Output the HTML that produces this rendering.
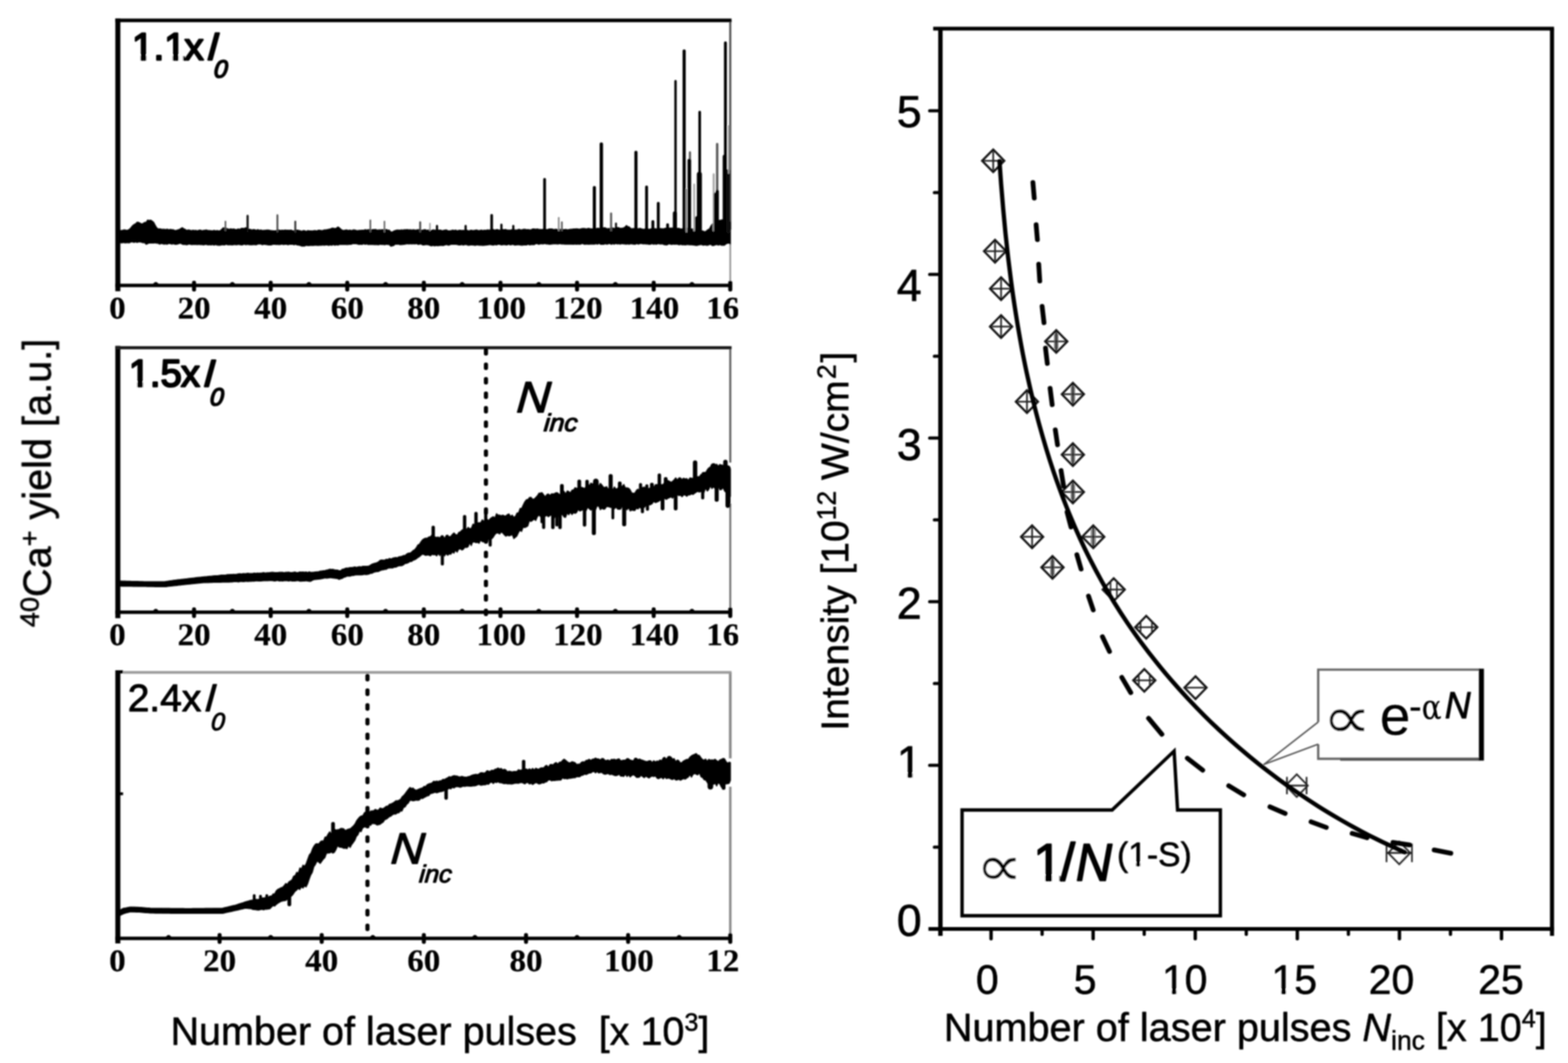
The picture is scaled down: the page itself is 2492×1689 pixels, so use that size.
<!DOCTYPE html>
<html lang="en"><head><meta charset="utf-8"><title>Figure</title>
<style>html,body{margin:0;padding:0;background:#fff;overflow:hidden}svg{display:block}text{font-family:'Liberation Sans','DejaVu Sans',sans-serif;fill:#000;font-kerning:none} .tk{font-family:'Liberation Serif','DejaVu Serif',serif;font-weight:bold;font-size:51px;text-anchor:middle;stroke:#000;stroke-width:0.3px}.i{font-style:italic}</style></head><body>
<svg xmlns="http://www.w3.org/2000/svg" width="2492" height="1689" viewBox="0 0 2492 1689">
<defs><filter id="bl" x="-5%" y="-5%" width="110%" height="110%"><feGaussianBlur stdDeviation="0.9"/></filter><clipPath id="cl"><rect x="0" y="0" width="1173" height="1689"/></clipPath></defs>
<rect width="2492" height="1689" fill="#fff"/>
<g filter="url(#bl)">
<g clip-path="url(#cl)">
<line x1="1160.6" y1="32.4" x2="1160.6" y2="365" stroke="#555" stroke-width="3.4" stroke-linecap="butt" />
<line x1="1160.6" y1="388" x2="1160.6" y2="453.5" stroke="#999" stroke-width="2.8" stroke-linecap="butt" />
<line x1="187.3" y1="29.4" x2="187.3" y2="462.7" stroke="#000" stroke-width="8" stroke-linecap="butt" />
<line x1="183.3" y1="32.4" x2="1162.6" y2="32.4" stroke="#000" stroke-width="5.6" stroke-linecap="butt" />
<line x1="183.3" y1="453.5" x2="1163.1" y2="453.5" stroke="#000" stroke-width="5.6" stroke-linecap="butt" />
<text class="tk" transform="translate(186.7,506) scale(1.03,1)">0</text>
<path d="M242.6,451.5 L246.1,448.2 L249.1,448.2 L252.6,451.5Z" fill="#000"/>
<line x1="308.4" y1="449.3" x2="308.4" y2="460.1" stroke="#000" stroke-width="6.4" stroke-linecap="round" />
<text class="tk" transform="translate(308.4,506) scale(1.03,1)">20</text>
<path d="M364.3,451.5 L367.8,448.2 L370.8,448.2 L374.3,451.5Z" fill="#000"/>
<line x1="430.2" y1="449.3" x2="430.2" y2="460.1" stroke="#000" stroke-width="6.4" stroke-linecap="round" />
<text class="tk" transform="translate(430.2,506) scale(1.03,1)">40</text>
<path d="M486,451.5 L489.5,448.2 L492.5,448.2 L496,451.5Z" fill="#000"/>
<line x1="551.9" y1="449.3" x2="551.9" y2="460.1" stroke="#000" stroke-width="6.4" stroke-linecap="round" />
<text class="tk" transform="translate(551.9,506) scale(1.03,1)">60</text>
<path d="M607.8,451.5 L611.3,448.2 L614.3,448.2 L617.8,451.5Z" fill="#000"/>
<line x1="673.6" y1="449.3" x2="673.6" y2="460.1" stroke="#000" stroke-width="6.4" stroke-linecap="round" />
<text class="tk" transform="translate(673.6,506) scale(1.03,1)">80</text>
<path d="M729.5,451.5 L733,448.2 L736,448.2 L739.5,451.5Z" fill="#000"/>
<line x1="795.4" y1="449.3" x2="795.4" y2="460.1" stroke="#000" stroke-width="6.4" stroke-linecap="round" />
<text class="tk" transform="translate(796.6,506) scale(1.03,1)">100</text>
<path d="M851.3,451.5 L854.8,448.2 L857.8,448.2 L861.3,451.5Z" fill="#000"/>
<line x1="917.1" y1="449.3" x2="917.1" y2="460.1" stroke="#000" stroke-width="6.4" stroke-linecap="round" />
<text class="tk" transform="translate(918.3,506) scale(1.03,1)">120</text>
<path d="M973,451.5 L976.5,448.2 L979.5,448.2 L983,451.5Z" fill="#000"/>
<line x1="1038.9" y1="449.3" x2="1038.9" y2="460.1" stroke="#000" stroke-width="6.4" stroke-linecap="round" />
<text class="tk" transform="translate(1040.1,506) scale(1.03,1)">140</text>
<path d="M1094.7,451.5 L1098.2,448.2 L1101.2,448.2 L1104.7,451.5Z" fill="#000"/>
<line x1="1160.6" y1="449.3" x2="1160.6" y2="460.1" stroke="#000" stroke-width="6.4" stroke-linecap="round" />
<text class="tk" transform="translate(1161.8,506) scale(1.03,1)">160</text>
<path d="M189,366.2 L191.4,366 L193.8,366.1 L196.2,365.2 L198.6,365.1 L201,365.8 L203.4,365.3 L205.8,364 L208.2,361.3 L210.6,358.4 L213,356.6 L215.4,355.4 L217.8,352.8 L220.2,353.1 L222.6,354.2 L225,355.8 L227.4,354.7 L229.8,353.2 L232.2,353.1 L234.6,349.3 L237,350.2 L239.4,349.5 L241.8,351.1 L244.2,352.9 L246.6,357.4 L249,361.5 L251.4,363.6 L253.8,363.4 L256.2,363.9 L258.6,364.2 L261,364 L263.4,364.5 L265.8,363.9 L268.2,365 L270.6,364.2 L273,364.8 L275.4,364.9 L277.8,366.1 L280.2,365.8 L282.6,365 L285,364.4 L287.4,362.8 L289.8,361.5 L292.2,363.4 L294.6,364.4 L297,365.9 L299.4,365.2 L301.8,365.5 L304.2,366.4 L306.6,365.7 L309,366 L311.4,365.8 L313.8,366.5 L316.2,365.6 L318.6,365.4 L321,366.6 L323.4,365.8 L325.8,365.6 L328.2,365.2 L330.6,366 L333,366.1 L335.4,366.3 L337.8,366.5 L340.2,365.7 L342.6,366.6 L345,366.1 L347.4,366.7 L349.8,366.5 L352.2,364.3 L354.6,361.8 L357,361.9 L359.4,362.6 L361.8,363.4 L364.2,364.3 L366.6,363.3 L369,364.1 L371.4,363.5 L373.8,364.4 L376.2,364.5 L378.6,363.5 L381,364.3 L383.4,362.7 L385.8,362.7 L388.2,362.8 L390.6,361.5 L393,363.5 L395.4,364.4 L397.8,364.2 L400.2,365.3 L402.6,364.7 L405,364.8 L407.4,365.8 L409.8,364.5 L412.2,365.9 L414.6,365.2 L417,366.1 L419.4,365.8 L421.8,365.7 L424.2,365.3 L426.6,365.3 L429,365.8 L431.4,366.2 L433.8,366.4 L436.2,366.5 L438.6,366.4 L441,365.2 L443.4,365.3 L445.8,366 L448.2,365.6 L450.6,365.9 L453,365.4 L455.4,365.7 L457.8,365.5 L460.2,365.8 L462.6,365.3 L465,366.5 L467.4,366.3 L469.8,365.9 L472.2,365.4 L474.6,365.9 L477,366.3 L479.4,367.2 L481.8,366.2 L484.2,366.3 L486.6,367.6 L489,366.2 L491.4,366.5 L493.8,366.5 L496.2,366.9 L498.6,366.3 L501,366.2 L503.4,366.8 L505.8,365.6 L508.2,365.7 L510.6,366.2 L513,366 L515.4,365.1 L517.8,365 L520.2,364.6 L522.6,364.1 L525,363.7 L527.4,362.4 L529.8,362.3 L532.2,363 L534.6,362.3 L537,360.4 L539.4,361.7 L541.8,364.1 L544.2,365.7 L546.6,366.1 L549,365.3 L551.4,365.2 L553.8,366.1 L556.2,365.3 L558.6,366.3 L561,365.2 L563.4,365.2 L565.8,365.8 L568.2,366.3 L570.6,365.9 L573,365.8 L575.4,365.7 L577.8,365.7 L580.2,364.7 L582.6,365.3 L585,364.8 L587.4,364.7 L589.8,365.4 L592.2,364.7 L594.6,364.7 L597,364.3 L599.4,365.6 L601.8,365.2 L604.2,365.1 L606.6,365 L609,364.7 L611.4,365.5 L613.8,364.2 L616.2,365.5 L618.6,365.4 L621,368.1 L623.4,368.4 L625.8,366.9 L628.2,366 L630.6,365.4 L633,365.4 L635.4,365.6 L637.8,365 L640.2,365.3 L642.6,364.9 L645,364.9 L647.4,364.7 L649.8,365 L652.2,364.9 L654.6,365.4 L657,364.8 L659.4,365.3 L661.8,365.2 L664.2,364.8 L666.6,364.6 L669,365.3 L671.4,365.8 L673.8,364.8 L676.2,364.8 L678.6,366 L681,365.1 L683.4,365.2 L685.8,366 L688.2,365.1 L690.6,365.4 L693,365.9 L695.4,365.2 L697.8,365.6 L700.2,365.3 L702.6,366.6 L705,365.8 L707.4,365.4 L709.8,365.2 L712.2,366.5 L714.6,366.5 L717,366.2 L719.4,365.4 L721.8,366 L724.2,365.4 L726.6,366.5 L729,365.8 L731.4,365.7 L733.8,366.1 L736.2,365.8 L738.6,366 L741,365.3 L743.4,366 L745.8,366.5 L748.2,365.5 L750.6,365.9 L753,366 L755.4,365.5 L757.8,365.2 L760.2,366.2 L762.6,366.1 L765,365.3 L767.4,366.2 L769.8,365.5 L772.2,365.9 L774.6,365.1 L777,365.4 L779.4,365 L781.8,364.7 L784.2,364.6 L786.6,365.6 L789,364.6 L791.4,364.8 L793.8,365.5 L796.2,365 L798.6,364.6 L801,364.8 L803.4,364.3 L805.8,365.3 L808.2,365.3 L810.6,365.6 L813,364.8 L815.4,365 L817.8,365.1 L820.2,365.4 L822.6,364.9 L825,364.1 L827.4,365.1 L829.8,364.8 L832.2,364.2 L834.6,364 L837,364.8 L839.4,364.6 L841.8,365.1 L844.2,364.8 L846.6,363.6 L849,363.7 L851.4,364.1 L853.8,363.7 L856.2,364.2 L858.6,364.4 L861,364.6 L863.4,364.2 L865.8,364.4 L868.2,364.6 L870.6,364.4 L873,363.6 L875.4,363.6 L877.8,363.7 L880.2,364.6 L882.6,364.2 L885,364.1 L887.4,364.8 L889.8,364.1 L892.2,364.9 L894.6,364.4 L897,364.8 L899.4,364.2 L901.8,365.1 L904.2,364.5 L906.6,364 L909,364.1 L911.4,363.6 L913.8,363.6 L916.2,363.4 L918.6,363.7 L921,364 L923.4,363.4 L925.8,362.9 L928.2,362.9 L930.6,363.2 L933,363.3 L935.4,362.5 L937.8,363.3 L940.2,363.3 L942.6,363.6 L945,362.3 L947.4,363.2 L949.8,362.3 L952.2,362.9 L954.6,362.6 L957,361.8 L959.4,361.9 L961.8,361.7 L964.2,363.1 L966.6,363.2 L969,362.8 L971.4,363.1 L973.8,361.8 L976.2,363 L978.6,361.7 L981,361.4 L983.4,361.6 L985.8,362.8 L988.2,362.3 L990.6,362.1 L993,360.8 L995.4,358.1 L997.8,359.8 L1000.2,360.4 L1002.6,362.9 L1005,363.2 L1007.4,362.9 L1009.8,363.3 L1012.2,362.9 L1014.6,363.4 L1017,362.7 L1019.4,363.4 L1021.8,364 L1024.2,364.1 L1026.6,363.1 L1029,362.9 L1031.4,364.4 L1033.8,363.7 L1036.2,363.1 L1038.6,363.3 L1041,363.2 L1043.4,363.7 L1045.8,363.1 L1048.2,362.9 L1050.6,363.1 L1053,363.3 L1055.4,363.1 L1057.8,362.4 L1060.2,363.4 L1062.6,362.1 L1065,362.3 L1067.4,362.2 L1069.8,362.3 L1072.2,363 L1074.6,363.3 L1077,362.5 L1079.4,362.7 L1081.8,363.5 L1084.2,363.4 L1086.6,362.8 L1089,363.2 L1091.4,362.7 L1093.8,362.5 L1096.2,363.9 L1098.6,363.9 L1101,363.4 L1103.4,365.1 L1105.8,364.2 L1108.2,364.2 L1110.6,365.8 L1113,366.3 L1115.4,366.5 L1117.8,367.1 L1120.2,368.3 L1122.6,366.7 L1125,364.7 L1127.4,363.5 L1129.8,358.9 L1132.2,355.7 L1134.6,354.2 L1137,352.4 L1139.4,350.6 L1141.8,350.3 L1144.2,349.8 L1146.6,350.9 L1149,349.4 L1151.4,350.3 L1153.8,350 L1156.2,352 L1158.6,353.9 L1161,352.6 L1161,352.4 L1161,387.7 L1161,388.4 L1158.6,386.6 L1156.2,386.7 L1153.8,387.8 L1151.4,389.9 L1149,389.7 L1146.6,390 L1144.2,388.8 L1141.8,389.8 L1139.4,388.8 L1137,389.1 L1134.6,390.1 L1132.2,390.5 L1129.8,388.5 L1127.4,388.7 L1125,389.9 L1122.6,389.8 L1120.2,389.1 L1117.8,389.9 L1115.4,389 L1113,388.8 L1110.6,389.3 L1108.2,390.1 L1105.8,390.1 L1103.4,389.7 L1101,389.5 L1098.6,389 L1096.2,389.2 L1093.8,388.8 L1091.4,388.8 L1089,389.3 L1086.6,388.8 L1084.2,389.2 L1081.8,388.5 L1079.4,389.3 L1077,388.5 L1074.6,388 L1072.2,388.4 L1069.8,388 L1067.4,388.8 L1065,387.9 L1062.6,387.7 L1060.2,389.3 L1057.8,389.2 L1055.4,389 L1053,387.8 L1050.6,387.7 L1048.2,388 L1045.8,387.1 L1043.4,388.5 L1041,387.6 L1038.6,388.3 L1036.2,387.5 L1033.8,388.3 L1031.4,388.3 L1029,387.9 L1026.6,388 L1024.2,387.3 L1021.8,387.8 L1019.4,387 L1017,387.1 L1014.6,388.3 L1012.2,387.3 L1009.8,388.3 L1007.4,388.2 L1005,387.9 L1002.6,387.5 L1000.2,388.3 L997.8,387.7 L995.4,388.2 L993,388 L990.6,387.6 L988.2,387.3 L985.8,388.2 L983.4,387.4 L981,387.9 L978.6,387 L976.2,388.3 L973.8,387.5 L971.4,388.4 L969,386.9 L966.6,387.8 L964.2,388.2 L961.8,387.4 L959.4,388.4 L957,388.3 L954.6,388.4 L952.2,386.8 L949.8,388.3 L947.4,387.5 L945,388.1 L942.6,388.1 L940.2,387.8 L937.8,388.1 L935.4,388.3 L933,388 L930.6,388.2 L928.2,388.3 L925.8,386.9 L923.4,387.9 L921,388.3 L918.6,387.9 L916.2,388.3 L913.8,387.8 L911.4,388.3 L909,388.2 L906.6,388.2 L904.2,388.2 L901.8,388.2 L899.4,388.2 L897,388.1 L894.6,387.7 L892.2,388 L889.8,387.1 L887.4,387.9 L885,387.8 L882.6,387.5 L880.2,387.7 L877.8,387.8 L875.4,388.2 L873,388.3 L870.6,387.8 L868.2,387.9 L865.8,387 L863.4,388 L861,387.4 L858.6,387.7 L856.2,388.5 L853.8,387.5 L851.4,387.5 L849,389 L846.6,388.9 L844.2,388.6 L841.8,389.5 L839.4,388.2 L837,389.4 L834.6,389.4 L832.2,389.5 L829.8,389.8 L827.4,389.7 L825,389.1 L822.6,389.1 L820.2,389.4 L817.8,389.6 L815.4,388.3 L813,389 L810.6,389.3 L808.2,388.3 L805.8,389.5 L803.4,389.2 L801,388.7 L798.6,389.2 L796.2,389.3 L793.8,388.5 L791.4,388.5 L789,389.5 L786.6,388.7 L784.2,389.7 L781.8,389.5 L779.4,388.6 L777,388.9 L774.6,389.5 L772.2,389.7 L769.8,389.9 L767.4,390.1 L765,389.8 L762.6,389.9 L760.2,389.7 L757.8,389.3 L755.4,390.1 L753,389.7 L750.6,389.4 L748.2,389.1 L745.8,389.9 L743.4,389.8 L741,388.6 L738.6,389 L736.2,389.6 L733.8,388.8 L731.4,389.3 L729,389.5 L726.6,388.7 L724.2,388.5 L721.8,388.3 L719.4,388.5 L717,388.5 L714.6,389.3 L712.2,389.8 L709.8,388.7 L707.4,389.3 L705,390.3 L702.6,390.1 L700.2,389.9 L697.8,390.3 L695.4,390.6 L693,390.2 L690.6,390.9 L688.2,389.9 L685.8,390.9 L683.4,390.2 L681,389.2 L678.6,388.9 L676.2,389 L673.8,389.5 L671.4,389.3 L669,387.8 L666.6,388.1 L664.2,388.6 L661.8,387.1 L659.4,387.9 L657,387.5 L654.6,387.9 L652.2,387.5 L649.8,387.9 L647.4,387.3 L645,387.8 L642.6,388.5 L640.2,388.6 L637.8,389 L635.4,388.9 L633,388 L630.6,388.4 L628.2,388 L625.8,390.2 L623.4,391 L621,391.3 L618.6,388.8 L616.2,388.7 L613.8,388.3 L611.4,389.2 L609,388.5 L606.6,388.7 L604.2,388.3 L601.8,389.2 L599.4,388.9 L597,388.7 L594.6,388.8 L592.2,388.7 L589.8,388.7 L587.4,388.3 L585,388.8 L582.6,387.8 L580.2,388.5 L577.8,387.5 L575.4,388.6 L573,388.1 L570.6,388.6 L568.2,387.9 L565.8,387.4 L563.4,387.3 L561,387.3 L558.6,388.3 L556.2,388.5 L553.8,388.7 L551.4,388.8 L549,388.4 L546.6,388.6 L544.2,388.6 L541.8,388.4 L539.4,388.7 L537,389.8 L534.6,389 L532.2,389.9 L529.8,388.8 L527.4,389.9 L525,389.3 L522.6,390.1 L520.2,389.4 L517.8,389.4 L515.4,390 L513,389.5 L510.6,389.9 L508.2,389.6 L505.8,390.2 L503.4,389.9 L501,389.7 L498.6,390.1 L496.2,390.2 L493.8,389.8 L491.4,390.5 L489,390.3 L486.6,389.8 L484.2,391.1 L481.8,391.2 L479.4,391.2 L477,390.2 L474.6,389.6 L472.2,389.5 L469.8,388.2 L467.4,389.3 L465,388.3 L462.6,388.3 L460.2,388.2 L457.8,389.2 L455.4,388.3 L453,388.2 L450.6,389 L448.2,388 L445.8,388.7 L443.4,389 L441,388.4 L438.6,388.7 L436.2,388.1 L433.8,388.5 L431.4,389.3 L429,389.1 L426.6,389.3 L424.2,389 L421.8,388.7 L419.4,388.2 L417,389.1 L414.6,388 L412.2,387.9 L409.8,388 L407.4,389.2 L405,388.9 L402.6,388.9 L400.2,389.1 L397.8,389.1 L395.4,389 L393,388.5 L390.6,389.1 L388.2,388 L385.8,389.2 L383.4,389.3 L381,388.8 L378.6,388.5 L376.2,389.2 L373.8,388.8 L371.4,389 L369,389.3 L366.6,388.9 L364.2,389.1 L361.8,389.2 L359.4,388.2 L357,389.4 L354.6,389.2 L352.2,389.2 L349.8,390 L347.4,389.9 L345,389.6 L342.6,388.6 L340.2,389.8 L337.8,388.8 L335.4,389.3 L333,389 L330.6,389.3 L328.2,388.6 L325.8,388.7 L323.4,389.3 L321,388.7 L318.6,389 L316.2,388.4 L313.8,388.8 L311.4,388.6 L309,388.6 L306.6,388.7 L304.2,388.9 L301.8,388 L299.4,388.1 L297,389.2 L294.6,388.7 L292.2,388.7 L289.8,388.3 L287.4,386.7 L285,386.9 L282.6,388 L280.2,388.3 L277.8,388.3 L275.4,387.4 L273,388.2 L270.6,387.3 L268.2,386.9 L265.8,388.3 L263.4,387.6 L261,388.2 L258.6,387.6 L256.2,386.9 L253.8,388.2 L251.4,386.8 L249,386.6 L246.6,386 L244.2,386.4 L241.8,386.5 L239.4,386.3 L237,386.1 L234.6,387.4 L232.2,388.4 L229.8,385.8 L227.4,386 L225,385.1 L222.6,384.4 L220.2,384.7 L217.8,385.5 L215.4,384.4 L213,385.4 L210.6,384.4 L208.2,384.6 L205.8,386.1 L203.4,385.8 L201,385.9 L198.6,386.1 L196.2,385.4 L193.8,386.2 L191.4,385.7 L189,385.8Z" fill="#000" stroke="#000" stroke-width="1.2" stroke-linejoin="round"/>
<line x1="358.3" y1="352" x2="358.3" y2="366" stroke="#555" stroke-width="2.5" stroke-linecap="round" />
<line x1="393.5" y1="343" x2="393.5" y2="368" stroke="#111" stroke-width="3.4" stroke-linecap="round" />
<line x1="440.9" y1="342" x2="440.9" y2="368" stroke="#444" stroke-width="2.8" stroke-linecap="round" />
<line x1="469.3" y1="352" x2="469.3" y2="368" stroke="#333" stroke-width="3" stroke-linecap="round" />
<line x1="588.6" y1="350" x2="588.6" y2="368" stroke="#555" stroke-width="2.5" stroke-linecap="round" />
<line x1="611" y1="352" x2="611" y2="368" stroke="#666" stroke-width="2.5" stroke-linecap="round" />
<line x1="667.8" y1="353" x2="667.8" y2="368" stroke="#444" stroke-width="3" stroke-linecap="round" />
<line x1="683.3" y1="355" x2="683.3" y2="366" stroke="#999" stroke-width="2.2" stroke-linecap="round" />
<line x1="694.5" y1="359" x2="694.5" y2="368" stroke="#000" stroke-width="3.5" stroke-linecap="round" />
<line x1="740" y1="359" x2="740" y2="368" stroke="#000" stroke-width="3.5" stroke-linecap="round" />
<line x1="781.4" y1="342" x2="781.4" y2="368" stroke="#000" stroke-width="4.2" stroke-linecap="round" />
<line x1="796.9" y1="357" x2="796.9" y2="368" stroke="#000" stroke-width="3.5" stroke-linecap="round" />
<line x1="815.8" y1="359" x2="815.8" y2="368" stroke="#000" stroke-width="3.5" stroke-linecap="round" />
<line x1="865.5" y1="285" x2="865.5" y2="368" stroke="#000" stroke-width="4.4" stroke-linecap="round" />
<line x1="888" y1="346" x2="888" y2="366" stroke="#888" stroke-width="2.6" stroke-linecap="round" />
<line x1="893" y1="353" x2="893" y2="366" stroke="#555" stroke-width="2.6" stroke-linecap="round" />
<line x1="944.6" y1="298" x2="944.6" y2="368" stroke="#000" stroke-width="5" stroke-linecap="round" />
<line x1="955.7" y1="229" x2="955.7" y2="368" stroke="#000" stroke-width="5.4" stroke-linecap="round" />
<line x1="971.2" y1="339" x2="971.2" y2="366" stroke="#555" stroke-width="3.2" stroke-linecap="round" />
<line x1="979" y1="355" x2="979" y2="366" stroke="#000" stroke-width="3" stroke-linecap="round" />
<line x1="1010.7" y1="242" x2="1010.7" y2="368" stroke="#000" stroke-width="5" stroke-linecap="round" />
<line x1="1027.6" y1="297" x2="1027.6" y2="368" stroke="#000" stroke-width="4.6" stroke-linecap="round" />
<line x1="1037.6" y1="352" x2="1037.6" y2="368" stroke="#000" stroke-width="4.6" stroke-linecap="round" />
<line x1="1046.2" y1="323" x2="1046.2" y2="368" stroke="#000" stroke-width="4.6" stroke-linecap="round" />
<line x1="1061" y1="357" x2="1061" y2="366" stroke="#000" stroke-width="4.5" stroke-linecap="round" />
<line x1="1072.6" y1="339" x2="1072.6" y2="368" stroke="#000" stroke-width="6.5" stroke-linecap="round" />
<line x1="1073.6" y1="129" x2="1073.6" y2="368" stroke="#000" stroke-width="3.8" stroke-linecap="round" />
<line x1="1087.3" y1="81" x2="1087.3" y2="368" stroke="#000" stroke-width="5" stroke-linecap="round" />
<line x1="1091" y1="301" x2="1091" y2="368" stroke="#999" stroke-width="2.6" stroke-linecap="round" />
<line x1="1096.5" y1="242" x2="1096.5" y2="368" stroke="#555" stroke-width="3.4" stroke-linecap="round" />
<line x1="1095.5" y1="255" x2="1095.5" y2="368" stroke="#000" stroke-width="5.6" stroke-linecap="round" />
<line x1="1103.3" y1="293" x2="1103.3" y2="366" stroke="#aaa" stroke-width="3" stroke-linecap="round" />
<line x1="1107" y1="346" x2="1107" y2="368" stroke="#000" stroke-width="5" stroke-linecap="round" />
<line x1="1112" y1="178" x2="1112" y2="368" stroke="#000" stroke-width="4.2" stroke-linecap="round" />
<line x1="1111.5" y1="277" x2="1111.5" y2="368" stroke="#000" stroke-width="8" stroke-linecap="round" />
<line x1="1134.3" y1="277" x2="1134.3" y2="366" stroke="#aaa" stroke-width="3.4" stroke-linecap="round" />
<line x1="1139.8" y1="229" x2="1139.8" y2="368" stroke="#555" stroke-width="3.8" stroke-linecap="round" />
<line x1="1138" y1="309" x2="1138" y2="368" stroke="#000" stroke-width="7" stroke-linecap="round" />
<line x1="1140" y1="304" x2="1140" y2="368" stroke="#000" stroke-width="5" stroke-linecap="round" />
<line x1="1148" y1="353" x2="1148" y2="368" stroke="#000" stroke-width="9" stroke-linecap="round" />
<line x1="1152.9" y1="68" x2="1152.9" y2="368" stroke="#000" stroke-width="4.6" stroke-linecap="round" />
<line x1="1151.8" y1="249" x2="1151.8" y2="368" stroke="#000" stroke-width="6.5" stroke-linecap="round" />
<line x1="1157.5" y1="272" x2="1157.5" y2="368" stroke="#111" stroke-width="6" stroke-linecap="round" />
<line x1="1158.2" y1="200" x2="1158.2" y2="275" stroke="#999" stroke-width="2.6" stroke-linecap="round" />
<text font-size="61.5" stroke="#000" stroke-width="3" stroke-linejoin="round"><tspan x="209.7" y="94.8">1.1</tspan><tspan x="293" y="94.8">x</tspan></text>
<rect x="211.7" y="87.2" width="11.5" height="10.3" fill="#fff"/>
<rect x="232.6" y="87.2" width="11" height="10.3" fill="#fff"/>
<rect x="263" y="87.2" width="11.5" height="10.3" fill="#fff"/>
<rect x="283.9" y="87.2" width="6.9" height="10.3" fill="#fff"/>
<text class="i" transform="translate(328.6,94.8) skewX(-4.5)" font-size="61.5" stroke="#000" stroke-width="3" stroke-linejoin="round"><tspan x="0" y="0">I</tspan><tspan font-size="39" stroke-width="2.4" x="12.8" y="28">0</tspan></text>
</g>
<g clip-path="url(#cl)">
<line x1="1160.6" y1="552.4" x2="1160.6" y2="735" stroke="#666" stroke-width="3.4" stroke-linecap="butt" />
<line x1="1160.6" y1="800" x2="1160.6" y2="972.8" stroke="#777" stroke-width="3.2" stroke-linecap="butt" />
<line x1="187.3" y1="549.4" x2="187.3" y2="982.2" stroke="#000" stroke-width="8" stroke-linecap="butt" />
<line x1="183.3" y1="552.4" x2="1162.6" y2="552.4" stroke="#1a1a1a" stroke-width="5" stroke-linecap="butt" />
<line x1="183.3" y1="972.8" x2="1163.1" y2="972.8" stroke="#000" stroke-width="5.6" stroke-linecap="butt" />
<text class="tk" transform="translate(186.7,1024.8) scale(1.03,1)">0</text>
<path d="M242.6,970.8 L246.1,967.5 L249.1,967.5 L252.6,970.8Z" fill="#000"/>
<line x1="308.4" y1="968.2" x2="308.4" y2="978.8" stroke="#000" stroke-width="6.4" stroke-linecap="round" />
<text class="tk" transform="translate(308.4,1024.8) scale(1.03,1)">20</text>
<path d="M364.3,970.8 L367.8,967.5 L370.8,967.5 L374.3,970.8Z" fill="#000"/>
<line x1="430.2" y1="968.2" x2="430.2" y2="978.8" stroke="#000" stroke-width="6.4" stroke-linecap="round" />
<text class="tk" transform="translate(430.2,1024.8) scale(1.03,1)">40</text>
<path d="M486,970.8 L489.5,967.5 L492.5,967.5 L496,970.8Z" fill="#000"/>
<line x1="551.9" y1="968.2" x2="551.9" y2="978.8" stroke="#000" stroke-width="6.4" stroke-linecap="round" />
<text class="tk" transform="translate(551.9,1024.8) scale(1.03,1)">60</text>
<path d="M607.8,970.8 L611.3,967.5 L614.3,967.5 L617.8,970.8Z" fill="#000"/>
<line x1="673.6" y1="968.2" x2="673.6" y2="978.8" stroke="#000" stroke-width="6.4" stroke-linecap="round" />
<text class="tk" transform="translate(673.6,1024.8) scale(1.03,1)">80</text>
<path d="M729.5,970.8 L733,967.5 L736,967.5 L739.5,970.8Z" fill="#000"/>
<line x1="795.4" y1="968.2" x2="795.4" y2="978.8" stroke="#000" stroke-width="6.4" stroke-linecap="round" />
<text class="tk" transform="translate(796.6,1024.8) scale(1.03,1)">100</text>
<path d="M851.3,970.8 L854.8,967.5 L857.8,967.5 L861.3,970.8Z" fill="#000"/>
<line x1="917.1" y1="968.2" x2="917.1" y2="978.8" stroke="#000" stroke-width="6.4" stroke-linecap="round" />
<text class="tk" transform="translate(918.3,1024.8) scale(1.03,1)">120</text>
<path d="M973,970.8 L976.5,967.5 L979.5,967.5 L983,970.8Z" fill="#000"/>
<line x1="1038.9" y1="968.2" x2="1038.9" y2="978.8" stroke="#000" stroke-width="6.4" stroke-linecap="round" />
<text class="tk" transform="translate(1040.1,1024.8) scale(1.03,1)">140</text>
<path d="M1094.7,970.8 L1098.2,967.5 L1101.2,967.5 L1104.7,970.8Z" fill="#000"/>
<line x1="1160.6" y1="968.2" x2="1160.6" y2="978.8" stroke="#000" stroke-width="6.4" stroke-linecap="round" />
<text class="tk" transform="translate(1161.8,1024.8) scale(1.03,1)">160</text>
<line x1="772.3" y1="556.2" x2="772.3" y2="561.8" stroke="#000" stroke-width="6.6" stroke-linecap="round" />
<line x1="772.3" y1="579.2" x2="772.3" y2="584.8" stroke="#000" stroke-width="6.6" stroke-linecap="round" />
<line x1="772.3" y1="602.2" x2="772.3" y2="607.8" stroke="#000" stroke-width="6.6" stroke-linecap="round" />
<line x1="772.3" y1="625.2" x2="772.3" y2="630.8" stroke="#000" stroke-width="6.6" stroke-linecap="round" />
<line x1="772.3" y1="648.2" x2="772.3" y2="653.8" stroke="#000" stroke-width="6.6" stroke-linecap="round" />
<line x1="772.3" y1="671.2" x2="772.3" y2="676.8" stroke="#000" stroke-width="6.6" stroke-linecap="round" />
<line x1="772.3" y1="694.2" x2="772.3" y2="699.8" stroke="#000" stroke-width="6.6" stroke-linecap="round" />
<line x1="772.3" y1="717.2" x2="772.3" y2="722.8" stroke="#000" stroke-width="6.6" stroke-linecap="round" />
<line x1="772.3" y1="740.2" x2="772.3" y2="745.8" stroke="#000" stroke-width="6.6" stroke-linecap="round" />
<line x1="772.3" y1="763.2" x2="772.3" y2="768.8" stroke="#000" stroke-width="6.6" stroke-linecap="round" />
<line x1="772.3" y1="786.2" x2="772.3" y2="791.8" stroke="#000" stroke-width="6.6" stroke-linecap="round" />
<line x1="772.3" y1="809.2" x2="772.3" y2="814.8" stroke="#000" stroke-width="6.6" stroke-linecap="round" />
<line x1="772.3" y1="832.2" x2="772.3" y2="837.8" stroke="#000" stroke-width="6.6" stroke-linecap="round" />
<line x1="772.3" y1="855.2" x2="772.3" y2="860.8" stroke="#000" stroke-width="6.6" stroke-linecap="round" />
<line x1="772.3" y1="878.2" x2="772.3" y2="883.8" stroke="#000" stroke-width="6.6" stroke-linecap="round" />
<line x1="772.3" y1="901.2" x2="772.3" y2="906.8" stroke="#000" stroke-width="6.6" stroke-linecap="round" />
<line x1="772.3" y1="924.2" x2="772.3" y2="929.8" stroke="#000" stroke-width="6.6" stroke-linecap="round" />
<line x1="772.3" y1="947.2" x2="772.3" y2="952.8" stroke="#000" stroke-width="6.6" stroke-linecap="round" />
<line x1="772.3" y1="970.2" x2="772.3" y2="975.8" stroke="#000" stroke-width="6.6" stroke-linecap="round" />
<path d="M189,923 L191.5,923.1 L194,923.1 L196.5,923.2 L199,923.2 L201.5,923.3 L204,923.4 L206.5,923.4 L209,923.5 L211.5,923.5 L214,923.6 L216.5,923.7 L219,923.7 L221.5,923.8 L224,923.9 L226.5,923.9 L229,924 L231.5,924 L234,924 L236.5,924 L239,924 L241.5,924 L244,924 L246.5,924 L249,924 L251.5,924 L254,924 L256.5,924 L259,924 L261.5,924 L264,923.7 L266.5,923.3 L269,922.9 L271.5,922.5 L274,922.2 L276.5,921.8 L279,921.5 L281.5,921.2 L284,920.9 L286.5,920.7 L289,920.4 L291.5,920.1 L294,919.8 L296.5,919.5 L299,919.2 L301.5,918.9 L304,918.6 L306.5,918.3 L309,918 L311.5,917.7 L314,917.4 L316.5,917.1 L319,916.9 L321.5,916.6 L324,916.3 L326.5,916.1 L329,915.9 L331.5,915.6 L334,915.4 L336.5,915.2 L339,914.9 L341.5,914.7 L344,914.5 L346.5,914.3 L349,914 L351.5,913.7 L354,913.6 L356.5,913.5 L359,913.4 L361.5,912.8 L364,912.8 L366.5,912.5 L369,912.6 L371.5,912.3 L374,912.6 L376.5,912.2 L379,911.7 L381.5,911.4 L384,911.8 L386.5,911.1 L389,911.3 L391.5,911 L394,910.7 L396.5,911.2 L399,911.1 L401.5,911 L404,910.4 L406.5,910.9 L409,910.3 L411.5,910.7 L414,910.3 L416.5,910.1 L419,909.6 L421.5,910.4 L424,909.9 L426.5,909.9 L429,909.5 L431.5,909.2 L434,909.2 L436.5,909.5 L439,909.7 L441.5,909.6 L444,909.2 L446.5,909.2 L449,909 L451.5,909.9 L454,909.2 L456.5,909 L459,908.9 L461.5,909.6 L464,909.7 L466.5,909.2 L469,908.7 L471.5,909.5 L474,909.3 L476.5,908.7 L479,908.9 L481.5,908.5 L484,909 L486.5,908.6 L489,909.6 L491.5,908.3 L494,909.3 L496.5,909.1 L499,908.9 L501.5,908.6 L504,908.3 L506.5,908.1 L509,907.2 L511.5,907 L514,906.6 L516.5,906.3 L519,905.7 L521.5,905 L524,904.2 L526.5,904.5 L529,904.4 L531.5,905.2 L534,905.5 L536.5,905.6 L539,906.7 L541.5,906.4 L544,904.3 L546.5,903.9 L549,902.7 L551.5,902.4 L554,902.2 L556.5,901.6 L559,901.5 L561.5,901.2 L564,900.5 L566.5,901.3 L569,900.5 L571.5,900 L574,900.5 L576.5,899.5 L579,899.7 L581.5,899.5 L584,899.7 L586.5,899.2 L589,897.5 L591.5,896.1 L594,895.2 L596.5,894.6 L599,893.7 L601.5,892.5 L604,890.1 L606.5,889.7 L609,889.9 L611.5,889.8 L614,888.3 L616.5,888.8 L619,887.1 L621.5,888 L624,886.7 L626.5,886.1 L629,885.7 L631.5,886 L634,884.4 L636.5,884.1 L639,883.6 L641.5,882.4 L644,882.1 L646.5,879.9 L649,878.7 L651.5,878.7 L654,877.1 L656.5,874.5 L659,873.2 L661.5,870.1 L664,865.7 L666.5,864.5 L669,860.7 L671.5,857.4 L674,855.8 L676.5,854.9 L679,855 L681.5,852.9 L684,852.6 L686.5,849.6 L689,851 L691.5,853.1 L694,853.5 L696.5,853 L699,854.6 L701.5,851.1 L704,851.1 L706.5,855.4 L709,850.7 L711.5,850.1 L714,852.9 L716.5,851.9 L719,848.7 L721.5,846.5 L724,849.1 L726.5,850.1 L729,845.9 L731.5,844.8 L734,842.2 L736.5,840.9 L739,842 L741.5,840.9 L744,837.6 L746.5,839.9 L749,839.1 L751.5,832.7 L754,833.1 L756.5,830.8 L759,830.7 L761.5,830.3 L764,830.1 L766.5,825.6 L769,828.5 L771.5,823.6 L774,824.7 L776.5,826.9 L779,823.9 L781.5,822.1 L784,820.7 L786.5,822.8 L789,815.9 L791.5,818.2 L794,818.2 L796.5,819.4 L799,818.2 L801.5,819.3 L804,819.5 L806.5,817.3 L809,816.4 L811.5,820.4 L814,818.1 L816.5,821.7 L819,820.2 L821.5,814.9 L824,814.8 L826.5,807.7 L829,807.6 L831.5,802 L834,797.1 L836.5,793.9 L839,793.3 L841.5,790.2 L844,790 L846.5,793.1 L849,792.6 L851.5,790.1 L854,787.5 L856.5,783.3 L859,783.1 L861.5,782.6 L864,785.8 L866.5,789 L869,785.5 L871.5,784.6 L874,787 L876.5,784.4 L879,784.7 L881.5,783.7 L884,782.5 L886.5,783.1 L889,785.3 L891.5,786.8 L894,779.2 L896.5,780.5 L899,784.6 L901.5,779.9 L904,780.9 L906.5,782.7 L909,778.6 L911.5,778.1 L914,774.5 L916.5,776 L919,774.7 L921.5,773.9 L924,774.1 L926.5,774.9 L929,776.1 L931.5,772.8 L934,767.6 L936.5,771.5 L939,767.2 L941.5,768.9 L944,767.2 L946.5,769 L949,766.4 L951.5,772.9 L954,767.8 L956.5,770.1 L959,773.8 L961.5,774.3 L964,772.9 L966.5,776.6 L969,776.7 L971.5,775.8 L974,778.1 L976.5,773.3 L979,777 L981.5,775.9 L984,772.3 L986.5,774.5 L989,772.1 L991.5,769.4 L994,775.1 L996.5,774.9 L999,775.5 L1001.5,778 L1004,782.8 L1006.5,783.7 L1009,783.1 L1011.5,778.7 L1014,776.9 L1016.5,779.2 L1019,775.2 L1021.5,774.4 L1024,773.8 L1026.5,775.5 L1029,776.5 L1031.5,775.9 L1034,774.5 L1036.5,771.1 L1039,774.3 L1041.5,769.9 L1044,769.9 L1046.5,769.5 L1049,768.1 L1051.5,770.2 L1054,769.6 L1056.5,765.4 L1059,768.3 L1061.5,763.3 L1064,764.5 L1066.5,766.3 L1069,764.4 L1071.5,762 L1074,759 L1076.5,762.3 L1079,759 L1081.5,759.2 L1084,761.7 L1086.5,759.5 L1089,760.9 L1091.5,760.1 L1094,762.8 L1096.5,759 L1099,759.6 L1101.5,760.1 L1104,758.7 L1106.5,758.1 L1109,757.2 L1111.5,757.3 L1114,753.5 L1116.5,754.6 L1119,750.4 L1121.5,750.6 L1124,746.2 L1126.5,743.2 L1129,741.7 L1131.5,738.5 L1134,736.8 L1136.5,741.8 L1139,737.2 L1141.5,740.7 L1144,737.7 L1146.5,738.7 L1149,739.2 L1151.5,742 L1154,739.5 L1156.5,739.7 L1159,740.7 L1161,744.8 L1161,789 L1159,786.8 L1156.5,782.1 L1154,782.9 L1151.5,780.4 L1149,774.9 L1146.5,778.2 L1144,778.3 L1141.5,772 L1139,775.4 L1136.5,776.8 L1134,773.2 L1131.5,776.7 L1129,772.5 L1126.5,778 L1124,780.5 L1121.5,775.9 L1119,782.6 L1116.5,782.2 L1114,781 L1111.5,782.1 L1109,781 L1106.5,782.3 L1104,783.9 L1101.5,786 L1099,784.9 L1096.5,786.6 L1094,786.4 L1091.5,788.9 L1089,786.7 L1086.5,786.7 L1084,789.6 L1081.5,787 L1079,787.7 L1076.5,786.1 L1074,790.5 L1071.5,787.6 L1069,791.9 L1066.5,789.8 L1064,791 L1061.5,792 L1059,793.8 L1056.5,792 L1054,793.8 L1051.5,794.6 L1049,795.1 L1046.5,796.9 L1044,797.9 L1041.5,798.9 L1039,796.7 L1036.5,800.6 L1034,802.1 L1031.5,802.3 L1029,799.8 L1026.5,803.4 L1024,806.7 L1021.5,804.1 L1019,808.3 L1016.5,805.9 L1014,809 L1011.5,807.7 L1009,811.4 L1006.5,811.2 L1004,810.6 L1001.5,812.2 L999,806.9 L996.5,810.4 L994,805.5 L991.5,808.5 L989,804.2 L986.5,809.1 L984,809.3 L981.5,809.1 L979,806 L976.5,808.6 L974,803.9 L971.5,806.7 L969,805.9 L966.5,805.2 L964,805.1 L961.5,809 L959,809.3 L956.5,807.8 L954,810.2 L951.5,804.7 L949,804 L946.5,810.7 L944,807.9 L941.5,808.6 L939,810.9 L936.5,808.5 L934,806.3 L931.5,811.7 L929,806.1 L926.5,810 L924,811.1 L921.5,812.3 L919,809.5 L916.5,814.4 L914,815.9 L911.5,814.8 L909,818 L906.5,814.1 L904,818.3 L901.5,815.4 L899,822.2 L896.5,821.8 L894,818.1 L891.5,817.4 L889,823.7 L886.5,817.3 L884,818.3 L881.5,822.8 L879,822.5 L876.5,818.1 L874,819.4 L871.5,821.3 L869,819.1 L866.5,820.4 L864,822.4 L861.5,819.9 L859,821.1 L856.5,818.5 L854,821.4 L851.5,827.4 L849,825.1 L846.5,827 L844,828.8 L841.5,827.5 L839,835.7 L836.5,837.5 L834,838.4 L831.5,837.9 L829,844.8 L826.5,842.3 L824,846.7 L821.5,852 L819,854 L816.5,856.1 L814,849.6 L811.5,851 L809,851.7 L806.5,850.6 L804,852.2 L801.5,850.1 L799,847 L796.5,845.6 L794,848.8 L791.5,846.8 L789,847.2 L786.5,849.7 L784,853.8 L781.5,856.2 L779,854.1 L776.5,856.3 L774,862.7 L771.5,862.3 L769,861.1 L766.5,861 L764,858.2 L761.5,863.6 L759,861.9 L756.5,862.4 L754,861.4 L751.5,861.1 L749,867.2 L746.5,863 L744,868.9 L741.5,870.1 L739,869.6 L736.5,872.9 L734,874.1 L731.5,872.2 L729,873 L726.5,877.7 L724,874.3 L721.5,879.3 L719,877.3 L716.5,881 L714,880.3 L711.5,882.5 L709,879.8 L706.5,883.8 L704,878.5 L701.5,879 L699,883.1 L696.5,879.8 L694,883.6 L691.5,881.2 L689,881.8 L686.5,881 L684,883.5 L681.5,882.2 L679,881.9 L676.5,882.8 L674,881.4 L671.5,880.6 L669,882.5 L666.5,884.8 L664,886.3 L661.5,888.2 L659,889.7 L656.5,890.5 L654,892.4 L651.5,892.5 L649,894.3 L646.5,895.3 L644,895.5 L641.5,897.5 L639,898.9 L636.5,899.1 L634,899.2 L631.5,900.3 L629,901.5 L626.5,901.5 L624,902.6 L621.5,902.7 L619,902.6 L616.5,903.1 L614,904.8 L611.5,905 L609,905.7 L606.5,905.9 L604,906.9 L601.5,908.3 L599,908.4 L596.5,908.8 L594,909.6 L591.5,911.1 L589,911.1 L586.5,912.5 L584,912.9 L581.5,913.2 L579,912.7 L576.5,913.4 L574,913.7 L571.5,913.3 L569,913.7 L566.5,913.7 L564,914 L561.5,914.6 L559,914.7 L556.5,915.7 L554,915.6 L551.5,915.6 L549,917 L546.5,917.5 L544,919.2 L541.5,919.8 L539,921 L536.5,919.6 L534,919.2 L531.5,919 L529,918.6 L526.5,918.2 L524,918.1 L521.5,918.6 L519,918.9 L516.5,918.5 L514,919.1 L511.5,919.6 L509,920.1 L506.5,920.3 L504,920.7 L501.5,920.9 L499,921.1 L496.5,922.2 L494,923.8 L491.5,923.8 L489,923.4 L486.5,922.8 L484,923.3 L481.5,923.4 L479,923.6 L476.5,923.7 L474,922.6 L471.5,922.8 L469,923.3 L466.5,923.5 L464,923.4 L461.5,922.7 L459,923.4 L456.5,923 L454,922.7 L451.5,923 L449,923.5 L446.5,922.9 L444,923.5 L441.5,922.5 L439,923 L436.5,923.3 L434,922.9 L431.5,922.6 L429,922.5 L426.5,922.8 L424,923 L421.5,922.6 L419,923 L416.5,923.1 L414,923.4 L411.5,923.4 L409,923.2 L406.5,923.2 L404,923.6 L401.5,923.4 L399,923.8 L396.5,923.6 L394,924.2 L391.5,923.7 L389,924.1 L386.5,924.3 L384,924 L381.5,924.1 L379,924.9 L376.5,924.5 L374,924.5 L371.5,924.4 L369,925 L366.5,924.9 L364,925.1 L361.5,925 L359,925.1 L356.5,925.1 L354,924.9 L351.5,925.3 L349,925.1 L346.5,925.4 L344,925.3 L341.5,925.4 L339,925.4 L336.5,925.6 L334,925.7 L331.5,925.8 L329,925.8 L326.5,925.9 L324,925.9 L321.5,926.1 L319,926.3 L316.5,926.6 L314,926.9 L311.5,927.1 L309,927.4 L306.5,927.6 L304,927.9 L301.5,928.2 L299,928.4 L296.5,928.7 L294,929 L291.5,929.2 L289,929.5 L286.5,929.8 L284,930 L281.5,930.3 L279,930.6 L276.5,930.8 L274,931.1 L271.5,931.4 L269,931.7 L266.5,932 L264,932.3 L261.5,932.5 L259,932.5 L256.5,932.4 L254,932.4 L251.5,932.3 L249,932.3 L246.5,932.3 L244,932.2 L241.5,932.2 L239,932.1 L236.5,932.1 L234,932.1 L231.5,932 L229,932 L226.5,932 L224,931.9 L221.5,931.9 L219,931.9 L216.5,931.8 L214,931.8 L211.5,931.8 L209,931.7 L206.5,931.7 L204,931.7 L201.5,931.7 L199,931.6 L196.5,931.6 L194,931.6 L191.5,931.5 L189,931.5Z" fill="#000" stroke="#000" stroke-width="1.2" stroke-linejoin="round"/>
<line x1="688.5" y1="838" x2="688.5" y2="860" stroke="#000" stroke-width="5.4" stroke-linecap="round" />
<line x1="703" y1="870" x2="703" y2="896" stroke="#000" stroke-width="5" stroke-linecap="round" />
<line x1="738.4" y1="821" x2="738.4" y2="850" stroke="#000" stroke-width="5.4" stroke-linecap="round" />
<line x1="756.5" y1="816" x2="756.5" y2="840" stroke="#000" stroke-width="5.4" stroke-linecap="round" />
<line x1="772" y1="812" x2="772" y2="830" stroke="#000" stroke-width="5" stroke-linecap="round" />
<line x1="779" y1="850" x2="779" y2="866" stroke="#000" stroke-width="5" stroke-linecap="round" />
<line x1="861.4" y1="810" x2="861.4" y2="829" stroke="#000" stroke-width="5" stroke-linecap="round" />
<line x1="864" y1="815" x2="864" y2="838" stroke="#000" stroke-width="5" stroke-linecap="round" />
<line x1="878.7" y1="810" x2="878.7" y2="838" stroke="#000" stroke-width="5.5" stroke-linecap="round" />
<line x1="890" y1="810" x2="890" y2="838" stroke="#000" stroke-width="5.5" stroke-linecap="round" />
<line x1="863" y1="793" x2="863" y2="800" stroke="#000" stroke-width="5" stroke-linecap="round" />
<line x1="885" y1="790" x2="885" y2="834" stroke="#000" stroke-width="5" stroke-linecap="round" />
<line x1="893" y1="772" x2="893" y2="800" stroke="#000" stroke-width="6" stroke-linecap="round" />
<line x1="920.6" y1="765" x2="920.6" y2="790" stroke="#000" stroke-width="6" stroke-linecap="round" />
<line x1="933" y1="765" x2="933" y2="790" stroke="#000" stroke-width="5.5" stroke-linecap="round" />
<line x1="943.8" y1="800" x2="943.8" y2="847" stroke="#000" stroke-width="6.5" stroke-linecap="round" />
<line x1="929" y1="800" x2="929" y2="834" stroke="#000" stroke-width="5.5" stroke-linecap="round" />
<line x1="947" y1="765" x2="947" y2="780" stroke="#000" stroke-width="9" stroke-linecap="round" />
<line x1="970.5" y1="756.5" x2="970.5" y2="790" stroke="#000" stroke-width="6.5" stroke-linecap="round" />
<line x1="974" y1="800" x2="974" y2="823" stroke="#000" stroke-width="4.5" stroke-linecap="round" />
<line x1="985" y1="768" x2="985" y2="790" stroke="#000" stroke-width="6" stroke-linecap="round" />
<line x1="992" y1="800" x2="992" y2="833" stroke="#000" stroke-width="6.5" stroke-linecap="round" />
<line x1="1018" y1="770" x2="1018" y2="800" stroke="#000" stroke-width="5" stroke-linecap="round" />
<line x1="1028" y1="772" x2="1028" y2="800" stroke="#000" stroke-width="5" stroke-linecap="round" />
<line x1="1021" y1="800" x2="1021" y2="813" stroke="#000" stroke-width="5" stroke-linecap="round" />
<line x1="1029" y1="800" x2="1029" y2="809" stroke="#000" stroke-width="5" stroke-linecap="round" />
<line x1="1036" y1="770" x2="1036" y2="790" stroke="#000" stroke-width="6" stroke-linecap="round" />
<line x1="1047.9" y1="755" x2="1047.9" y2="790" stroke="#000" stroke-width="5.5" stroke-linecap="round" />
<line x1="1053" y1="790" x2="1053" y2="808" stroke="#000" stroke-width="6" stroke-linecap="round" />
<line x1="1058" y1="761" x2="1058" y2="790" stroke="#000" stroke-width="6" stroke-linecap="round" />
<line x1="1073.8" y1="780" x2="1073.8" y2="808" stroke="#000" stroke-width="6" stroke-linecap="round" />
<line x1="1104.7" y1="735" x2="1104.7" y2="770" stroke="#000" stroke-width="7" stroke-linecap="round" />
<line x1="1118" y1="753" x2="1118" y2="770" stroke="#000" stroke-width="6" stroke-linecap="round" />
<line x1="1116.8" y1="770" x2="1116.8" y2="791" stroke="#000" stroke-width="5" stroke-linecap="round" />
<line x1="1134" y1="741" x2="1134" y2="770" stroke="#000" stroke-width="10" stroke-linecap="round" />
<line x1="1139" y1="770" x2="1139" y2="794" stroke="#000" stroke-width="6.5" stroke-linecap="round" />
<line x1="1152.9" y1="734" x2="1152.9" y2="770" stroke="#000" stroke-width="7" stroke-linecap="round" />
<line x1="1157" y1="744" x2="1157" y2="803" stroke="#000" stroke-width="8" stroke-linecap="round" />
<text font-size="60.5" stroke="#000" stroke-width="3" stroke-linejoin="round"><tspan x="204.7" y="613.9">1.5</tspan><tspan x="287.6" y="613.9">x</tspan></text>
<rect x="206.6" y="606.4" width="11.3" height="10.2" fill="#fff"/>
<rect x="227.3" y="606.4" width="10.8" height="10.2" fill="#fff"/>
<text class="i" transform="translate(323,613.9) skewX(-4.5)" font-size="60.5" stroke="#000" stroke-width="3" stroke-linejoin="round"><tspan x="0" y="0">I</tspan><tspan font-size="39" stroke-width="2.4" x="12.3" y="29.7">0</tspan></text>
<text class="i" transform="translate(820.2,654.8) skewX(-4.5)" font-size="69.5" stroke="#000" stroke-width="2.0" stroke-linejoin="round"><tspan x="0" y="0" textLength="52.7" lengthAdjust="spacingAndGlyphs">N</tspan><tspan font-size="39" stroke-width="1.7" x="46" y="30.4" textLength="53.5" lengthAdjust="spacingAndGlyphs">inc</tspan></text>
</g>
<g clip-path="url(#cl)">
<line x1="1160.6" y1="1068.4" x2="1160.6" y2="1205" stroke="#888" stroke-width="4.2" stroke-linecap="butt" />
<line x1="1160.6" y1="1250" x2="1160.6" y2="1491" stroke="#888" stroke-width="3.8" stroke-linecap="butt" />
<line x1="187.3" y1="1065" x2="187.3" y2="1499" stroke="#000" stroke-width="8" stroke-linecap="butt" />
<line x1="187.3" y1="1067.5" x2="195.6" y2="1067.5" stroke="#000" stroke-width="5" stroke-linecap="butt" />
<line x1="187.3" y1="1261.2" x2="195.6" y2="1261.2" stroke="#000" stroke-width="4.5" stroke-linecap="butt" />
<line x1="196" y1="1068.4" x2="1162.6" y2="1068.4" stroke="#9a9a9a" stroke-width="4.2" stroke-linecap="butt" />
<line x1="183.3" y1="1491" x2="1163.1" y2="1491" stroke="#000" stroke-width="5.6" stroke-linecap="butt" />
<text class="tk" transform="translate(186.7,1543) scale(1.03,1)">0</text>
<path d="M262.9,1489 L266.4,1485.7 L269.4,1485.7 L272.9,1489Z" fill="#000"/>
<line x1="349" y1="1485.6" x2="349" y2="1496.6" stroke="#000" stroke-width="6.4" stroke-linecap="round" />
<text class="tk" transform="translate(349,1543) scale(1.03,1)">20</text>
<path d="M425.2,1489 L428.7,1485.7 L431.7,1485.7 L435.2,1489Z" fill="#000"/>
<line x1="511.3" y1="1485.6" x2="511.3" y2="1496.6" stroke="#000" stroke-width="6.4" stroke-linecap="round" />
<text class="tk" transform="translate(511.3,1543) scale(1.03,1)">40</text>
<path d="M587.5,1489 L591,1485.7 L594,1485.7 L597.5,1489Z" fill="#000"/>
<line x1="673.6" y1="1485.6" x2="673.6" y2="1496.6" stroke="#000" stroke-width="6.4" stroke-linecap="round" />
<text class="tk" transform="translate(673.6,1543) scale(1.03,1)">60</text>
<path d="M749.8,1489 L753.3,1485.7 L756.3,1485.7 L759.8,1489Z" fill="#000"/>
<line x1="836" y1="1485.6" x2="836" y2="1496.6" stroke="#000" stroke-width="6.4" stroke-linecap="round" />
<text class="tk" transform="translate(836,1543) scale(1.03,1)">80</text>
<path d="M912.1,1489 L915.6,1485.7 L918.6,1485.7 L922.1,1489Z" fill="#000"/>
<line x1="998.3" y1="1485.6" x2="998.3" y2="1496.6" stroke="#000" stroke-width="6.4" stroke-linecap="round" />
<text class="tk" transform="translate(999.5,1543) scale(1.03,1)">100</text>
<path d="M1074.4,1489 L1077.9,1485.7 L1080.9,1485.7 L1084.4,1489Z" fill="#000"/>
<line x1="1160.6" y1="1485.6" x2="1160.6" y2="1496.6" stroke="#000" stroke-width="6.4" stroke-linecap="round" />
<text class="tk" transform="translate(1161.8,1543) scale(1.03,1)">120</text>
<line x1="584" y1="1073.8" x2="584" y2="1079.4" stroke="#000" stroke-width="6.6" stroke-linecap="round" />
<line x1="584" y1="1097.1" x2="584" y2="1102.8" stroke="#000" stroke-width="6.6" stroke-linecap="round" />
<line x1="584" y1="1120.5" x2="584" y2="1126.1" stroke="#000" stroke-width="6.6" stroke-linecap="round" />
<line x1="584" y1="1143.8" x2="584" y2="1149.4" stroke="#000" stroke-width="6.6" stroke-linecap="round" />
<line x1="584" y1="1167.2" x2="584" y2="1172.8" stroke="#000" stroke-width="6.6" stroke-linecap="round" />
<line x1="584" y1="1190.5" x2="584" y2="1196.1" stroke="#000" stroke-width="6.6" stroke-linecap="round" />
<line x1="584" y1="1213.9" x2="584" y2="1219.5" stroke="#000" stroke-width="6.6" stroke-linecap="round" />
<line x1="584" y1="1237.2" x2="584" y2="1242.8" stroke="#000" stroke-width="6.6" stroke-linecap="round" />
<line x1="584" y1="1260.6" x2="584" y2="1266.2" stroke="#000" stroke-width="6.6" stroke-linecap="round" />
<line x1="584" y1="1283.9" x2="584" y2="1289.5" stroke="#000" stroke-width="6.6" stroke-linecap="round" />
<line x1="584" y1="1307.3" x2="584" y2="1312.9" stroke="#000" stroke-width="6.6" stroke-linecap="round" />
<line x1="584" y1="1330.6" x2="584" y2="1336.2" stroke="#000" stroke-width="6.6" stroke-linecap="round" />
<line x1="584" y1="1354" x2="584" y2="1359.6" stroke="#000" stroke-width="6.6" stroke-linecap="round" />
<line x1="584" y1="1377.3" x2="584" y2="1382.9" stroke="#000" stroke-width="6.6" stroke-linecap="round" />
<line x1="584" y1="1400.7" x2="584" y2="1406.3" stroke="#000" stroke-width="6.6" stroke-linecap="round" />
<line x1="584" y1="1424" x2="584" y2="1429.6" stroke="#000" stroke-width="6.6" stroke-linecap="round" />
<line x1="584" y1="1447.4" x2="584" y2="1453" stroke="#000" stroke-width="6.6" stroke-linecap="round" />
<line x1="584" y1="1470.7" x2="584" y2="1476.3" stroke="#000" stroke-width="6.6" stroke-linecap="round" />
<path d="M189,1447 L191.5,1445.6 L194,1444.1 L196.5,1442.9 L199,1442.5 L201.5,1442 L204,1441.5 L206.5,1441.1 L209,1441.1 L211.5,1441.2 L214,1441.2 L216.5,1441.3 L219,1441.4 L221.5,1441.5 L224,1441.7 L226.5,1441.9 L229,1442.1 L231.5,1442.3 L234,1442.5 L236.5,1442.7 L239,1442.9 L241.5,1443 L244,1443 L246.5,1443.1 L249,1443.1 L251.5,1443.1 L254,1443.1 L256.5,1443.1 L259,1443.2 L261.5,1443.2 L264,1443.2 L266.5,1443.2 L269,1443.2 L271.5,1443.3 L274,1443.3 L276.5,1443.3 L279,1443.3 L281.5,1443.3 L284,1443.4 L286.5,1443.4 L289,1443.4 L291.5,1443.4 L294,1443.5 L296.5,1443.5 L299,1443.5 L301.5,1443.5 L304,1443.5 L306.5,1443.4 L309,1443.4 L311.5,1443.4 L314,1443.4 L316.5,1443.3 L319,1443.3 L321.5,1443.3 L324,1443.3 L326.5,1443.2 L329,1443.2 L331.5,1443.2 L334,1443.2 L336.5,1443.2 L339,1443.1 L341.5,1443.1 L344,1443.1 L346.5,1443.1 L349,1443 L351.5,1443 L354,1442.8 L356.5,1442.2 L359,1441.6 L361.5,1441 L364,1440.4 L366.5,1439.8 L369,1439.2 L371.5,1438.6 L374,1438 L376.5,1437.2 L379,1436.4 L381.5,1435.6 L384,1434.8 L386.5,1434 L389,1433.1 L391.5,1432.4 L394,1431.7 L396.5,1430.9 L399,1430.3 L401.5,1429.9 L404,1429.2 L406.5,1428.8 L409,1429 L411.5,1428.8 L414,1428.9 L416.5,1426.6 L419,1426.6 L421.5,1426.1 L424,1425.7 L426.5,1425.2 L429,1423.5 L431.5,1423.7 L434,1420.2 L436.5,1420 L439,1415.1 L441.5,1412.9 L444,1411.7 L446.5,1410.4 L449,1409.7 L451.5,1407 L454,1403.6 L456.5,1404.8 L459,1401 L461.5,1399.4 L464,1397.7 L466.5,1392.1 L469,1391.1 L471.5,1385.7 L474,1386.9 L476.5,1378.7 L479,1380.3 L481.5,1374.2 L484,1376.2 L486.5,1372 L489,1364.9 L491.5,1358.1 L494,1355.5 L496.5,1348.6 L499,1344.1 L501.5,1340.9 L504,1340.4 L506.5,1340.8 L509,1337.3 L511.5,1335.8 L514,1336.3 L516.5,1329.8 L519,1329.6 L521.5,1324.9 L524,1321.3 L526.5,1325 L529,1320.5 L531.5,1317.3 L534,1318.8 L536.5,1318.2 L539,1317.9 L541.5,1316.1 L544,1316.2 L546.5,1316.9 L549,1319.4 L551.5,1318 L554,1317 L556.5,1316.7 L559,1314.5 L561.5,1312.1 L564,1309.2 L566.5,1304.2 L569,1300.8 L571.5,1298 L574,1296.3 L576.5,1295.9 L579,1291.3 L581.5,1289.8 L584,1290.8 L586.5,1290.9 L589,1288.6 L591.5,1288.2 L594,1287.8 L596.5,1285.7 L599,1287 L601.5,1286.8 L604,1283.7 L606.5,1284.3 L609,1284.6 L611.5,1282.7 L614,1280.8 L616.5,1280.5 L619,1277.7 L621.5,1277 L624,1275.9 L626.5,1274.3 L629,1272.1 L631.5,1272.2 L634,1271.3 L636.5,1269.8 L639,1265.8 L641.5,1263.7 L644,1260.6 L646.5,1257 L649,1253.8 L651.5,1250.9 L654,1252.6 L656.5,1251.9 L659,1254.4 L661.5,1255.6 L664,1254.4 L666.5,1253.4 L669,1252.4 L671.5,1251.7 L674,1249.3 L676.5,1249.4 L679,1246.5 L681.5,1245.3 L684,1244.7 L686.5,1243.8 L689,1241.2 L691.5,1241.7 L694,1240.7 L696.5,1241.5 L699,1240.4 L701.5,1240 L704,1238.1 L706.5,1238.3 L709,1236.8 L711.5,1235.5 L714,1233.8 L716.5,1234.6 L719,1233 L721.5,1232.2 L724,1232.7 L726.5,1232.8 L729,1234 L731.5,1234.2 L734,1233.3 L736.5,1234 L739,1234.6 L741.5,1234.7 L744,1233.7 L746.5,1233.3 L749,1232.1 L751.5,1231 L754,1230.6 L756.5,1230.2 L759,1230.7 L761.5,1229.3 L764,1227.6 L766.5,1227.7 L769,1228.2 L771.5,1227.2 L774,1224.3 L776.5,1225.1 L779,1225.3 L781.5,1223.6 L784,1224 L786.5,1222.2 L789,1221.5 L791.5,1220 L794,1221.5 L796.5,1220.7 L799,1223.1 L801.5,1222 L804,1223.1 L806.5,1226.2 L809,1225.1 L811.5,1225.6 L814,1226.3 L816.5,1225.7 L819,1225.6 L821.5,1225.3 L824,1222.7 L826.5,1223.8 L829,1223.1 L831.5,1222.9 L834,1222.1 L836.5,1221.5 L839,1223.3 L841.5,1221.3 L844,1223.2 L846.5,1220.6 L849,1223.2 L851.5,1220.4 L854,1221.7 L856.5,1222 L859,1220.1 L861.5,1219.8 L864,1219.9 L866.5,1216.9 L869,1215.9 L871.5,1218.8 L874,1214.9 L876.5,1214.3 L879,1215.2 L881.5,1212.5 L884,1211.4 L886.5,1213.8 L889,1210.8 L891.5,1210.8 L894,1208 L896.5,1206.1 L899,1207.8 L901.5,1209.9 L904,1211.8 L906.5,1211.8 L909,1210 L911.5,1210.7 L914,1211.6 L916.5,1214.5 L919,1213.9 L921.5,1214 L924,1211 L926.5,1210 L929,1210.5 L931.5,1208 L934,1207.7 L936.5,1206.1 L939,1208.1 L941.5,1206 L944,1205.8 L946.5,1204.2 L949,1205.7 L951.5,1205.7 L954,1207.2 L956.5,1205 L959,1205.1 L961.5,1207.9 L964,1208.1 L966.5,1207.2 L969,1209 L971.5,1206.3 L974,1206.5 L976.5,1206 L979,1207.4 L981.5,1206.1 L984,1205.5 L986.5,1208.6 L989,1208 L991.5,1207.5 L994,1207.5 L996.5,1205.2 L999,1205.4 L1001.5,1207.4 L1004,1208.1 L1006.5,1208.5 L1009,1204.7 L1011.5,1204.7 L1014,1206.8 L1016.5,1205.7 L1019,1207 L1021.5,1207.8 L1024,1208.8 L1026.5,1209.5 L1029,1209.8 L1031.5,1208.6 L1034,1208.5 L1036.5,1211.3 L1039,1208.5 L1041.5,1210.4 L1044,1208.9 L1046.5,1209.5 L1049,1207.2 L1051.5,1208.6 L1054,1204.1 L1056.5,1203 L1059,1206.3 L1061.5,1202.3 L1064,1201.5 L1066.5,1202.7 L1069,1206.1 L1071.5,1205 L1074,1210 L1076.5,1207.3 L1079,1208.5 L1081.5,1212.3 L1084,1210.9 L1086.5,1208.8 L1089,1207.6 L1091.5,1206.4 L1094,1206.2 L1096.5,1202.7 L1099,1200.6 L1101.5,1199.3 L1104,1198.2 L1106.5,1197.1 L1109,1199.7 L1111.5,1200.2 L1114,1203.6 L1116.5,1206.6 L1119,1207.5 L1121.5,1205.8 L1124,1209.4 L1126.5,1206.2 L1129,1207.5 L1131.5,1207 L1134,1207.5 L1136.5,1206.1 L1139,1208.3 L1141.5,1209.9 L1144,1207.2 L1146.5,1206.3 L1149,1204.9 L1151.5,1205.3 L1154,1209.8 L1156.5,1212.4 L1159,1210.8 L1161,1211.6 L1161,1240.1 L1159,1244.7 L1156.5,1245.5 L1154,1246 L1151.5,1245.3 L1149,1249.1 L1146.5,1251.1 L1144,1246.1 L1141.5,1243.7 L1139,1249.2 L1136.5,1244.7 L1134,1246.4 L1131.5,1244.1 L1129,1248 L1126.5,1247.3 L1124,1243.4 L1121.5,1239.7 L1119,1239.1 L1116.5,1235.6 L1114,1234.5 L1111.5,1228.3 L1109,1231.5 L1106.5,1230.4 L1104,1229.2 L1101.5,1230.7 L1099,1235.2 L1096.5,1231.1 L1094,1234.8 L1091.5,1236.6 L1089,1238.3 L1086.5,1237.5 L1084,1238.5 L1081.5,1240.1 L1079,1238.5 L1076.5,1239.3 L1074,1239.6 L1071.5,1237.3 L1069,1238.8 L1066.5,1238.2 L1064,1236.8 L1061.5,1236.4 L1059,1237.4 L1056.5,1234.8 L1054,1237.9 L1051.5,1235.4 L1049,1236.2 L1046.5,1237.6 L1044,1236.4 L1041.5,1233 L1039,1234.1 L1036.5,1233.2 L1034,1234.4 L1031.5,1236.5 L1029,1235.1 L1026.5,1233.4 L1024,1235.9 L1021.5,1234.3 L1019,1232.1 L1016.5,1234.9 L1014,1235.3 L1011.5,1235.3 L1009,1232.7 L1006.5,1231.1 L1004,1232.4 L1001.5,1234.8 L999,1231.3 L996.5,1234.2 L994,1230.5 L991.5,1234 L989,1233.4 L986.5,1233.5 L984,1230.4 L981.5,1231.9 L979,1232.6 L976.5,1232.3 L974,1231.1 L971.5,1230.5 L969,1231.1 L966.5,1229.2 L964,1229.9 L961.5,1230.4 L959,1229.7 L956.5,1227.4 L954,1227.7 L951.5,1228.5 L949,1226.1 L946.5,1228.3 L944,1226 L941.5,1226.6 L939,1228.4 L936.5,1228.4 L934,1229.7 L931.5,1231 L929,1230.1 L926.5,1232 L924,1232.2 L921.5,1234.4 L919,1234.1 L916.5,1234.3 L914,1235.9 L911.5,1235.9 L909,1236.5 L906.5,1237 L904,1237 L901.5,1238 L899,1236.9 L896.5,1237.6 L894,1236.1 L891.5,1239.6 L889,1239.3 L886.5,1240 L884,1239.9 L881.5,1240.5 L879,1240.2 L876.5,1240.9 L874,1239.1 L871.5,1239.6 L869,1242.3 L866.5,1243 L864,1244.4 L861.5,1244 L859,1245.5 L856.5,1245.9 L854,1244.5 L851.5,1243.6 L849,1245.3 L846.5,1246.8 L844,1244.7 L841.5,1246 L839,1243.5 L836.5,1243.9 L834,1245.8 L831.5,1244.4 L829,1243.4 L826.5,1243.8 L824,1245 L821.5,1244.4 L819,1244.6 L816.5,1245.2 L814,1245.9 L811.5,1245.8 L809,1245.4 L806.5,1245.8 L804,1245 L801.5,1245.3 L799,1244.8 L796.5,1243.9 L794,1244 L791.5,1242.3 L789,1243.7 L786.5,1242.8 L784,1245.2 L781.5,1242.9 L779,1243.5 L776.5,1246.4 L774,1245.8 L771.5,1247.1 L769,1246.9 L766.5,1247.6 L764,1248 L761.5,1246.6 L759,1247.1 L756.5,1248.4 L754,1249 L751.5,1248.9 L749,1249.4 L746.5,1249.3 L744,1249.1 L741.5,1249 L739,1249.8 L736.5,1249.3 L734,1250.3 L731.5,1251.2 L729,1250.5 L726.5,1249.8 L724,1250.5 L721.5,1252.3 L719,1251.1 L716.5,1253.8 L714,1252.7 L711.5,1254.2 L709,1255.3 L706.5,1255.9 L704,1257.3 L701.5,1258 L699,1258.2 L696.5,1259.1 L694,1259.9 L691.5,1259 L689,1260 L686.5,1260.8 L684,1261.2 L681.5,1264.5 L679,1264.8 L676.5,1266.2 L674,1267.5 L671.5,1269.1 L669,1268.5 L666.5,1271.3 L664,1272 L661.5,1271.4 L659,1272.1 L656.5,1272.6 L654,1272 L651.5,1271.7 L649,1276.2 L646.5,1278.1 L644,1282.3 L641.5,1283.2 L639,1288.8 L636.5,1288.8 L634,1291.7 L631.5,1291.9 L629,1293.9 L626.5,1293.5 L624,1294.6 L621.5,1296.9 L619,1297.7 L616.5,1299.9 L614,1301.8 L611.5,1302.7 L609,1306.6 L606.5,1308.1 L604,1310 L601.5,1310.6 L599,1311.1 L596.5,1309.2 L594,1308.8 L591.5,1308.6 L589,1311.6 L586.5,1310.7 L584,1310.7 L581.5,1314.1 L579,1314.2 L576.5,1315.8 L574,1321.7 L571.5,1320.6 L569,1326.6 L566.5,1329.2 L564,1335.5 L561.5,1339 L559,1342.1 L556.5,1346.9 L554,1343.8 L551.5,1348.8 L549,1347.6 L546.5,1348.2 L544,1347 L541.5,1346.4 L539,1346.1 L536.5,1344.1 L534,1350.3 L531.5,1354.5 L529,1355.8 L526.5,1354.1 L524,1355.5 L521.5,1355.6 L519,1356 L516.5,1362.9 L514,1365.2 L511.5,1368.6 L509,1372.2 L506.5,1370 L504,1368.3 L501.5,1373.6 L499,1377.1 L496.5,1386.1 L494,1390.4 L491.5,1397.1 L489,1404.5 L486.5,1409.6 L484,1407.8 L481.5,1411.4 L479,1409.4 L476.5,1413.7 L474,1411.7 L471.5,1414.6 L469,1416.4 L466.5,1420.3 L464,1423.4 L461.5,1425 L459,1427.6 L456.5,1429.3 L454,1430.9 L451.5,1431.5 L449,1431.8 L446.5,1432.5 L444,1434.1 L441.5,1435.5 L439,1437.4 L436.5,1440 L434,1439.1 L431.5,1441.6 L429,1444.2 L426.5,1444.3 L424,1445 L421.5,1444.7 L419,1446 L416.5,1444.9 L414,1445.4 L411.5,1446.2 L409,1446.1 L406.5,1445.6 L404,1445.5 L401.5,1445.1 L399,1443.9 L396.5,1444 L394,1443.6 L391.5,1443.1 L389,1443.5 L386.5,1444.1 L384,1444.6 L381.5,1445.2 L379,1445.8 L376.5,1446.4 L374,1447 L371.5,1447.5 L369,1448.1 L366.5,1448.6 L364,1449.1 L361.5,1449.7 L359,1450.2 L356.5,1450.8 L354,1451.3 L351.5,1451.5 L349,1451.5 L346.5,1451.5 L344,1451.5 L341.5,1451.5 L339,1451.5 L336.5,1451.5 L334,1451.5 L331.5,1451.5 L329,1451.5 L326.5,1451.5 L324,1451.5 L321.5,1451.5 L319,1451.5 L316.5,1451.5 L314,1451.5 L311.5,1451.5 L309,1451.5 L306.5,1451.5 L304,1451.5 L301.5,1451.5 L299,1451.5 L296.5,1451.5 L294,1451.5 L291.5,1451.4 L289,1451.4 L286.5,1451.4 L284,1451.4 L281.5,1451.3 L279,1451.3 L276.5,1451.3 L274,1451.3 L271.5,1451.3 L269,1451.2 L266.5,1451.2 L264,1451.2 L261.5,1451.2 L259,1451.2 L256.5,1451.1 L254,1451.1 L251.5,1451.1 L249,1451.1 L246.5,1451.1 L244,1451 L241.5,1451 L239,1450.9 L236.5,1450.7 L234,1450.5 L231.5,1450.3 L229,1450.1 L226.5,1449.9 L224,1449.7 L221.5,1449.5 L219,1449.4 L216.5,1449.3 L214,1449.2 L211.5,1449.2 L209,1449.1 L206.5,1449.1 L204,1449.8 L201.5,1450.5 L199,1451.2 L196.5,1451.9 L194,1453.1 L191.5,1454.6 L189,1456Z" fill="#000" stroke="#000" stroke-width="1.2" stroke-linejoin="round"/>
<line x1="404" y1="1423" x2="404" y2="1440" stroke="#000" stroke-width="4.5" stroke-linecap="round" />
<line x1="414" y1="1424" x2="414" y2="1440" stroke="#000" stroke-width="4.5" stroke-linecap="round" />
<line x1="424" y1="1423" x2="424" y2="1440" stroke="#000" stroke-width="4.5" stroke-linecap="round" />
<line x1="459.8" y1="1420" x2="459.8" y2="1437" stroke="#000" stroke-width="6" stroke-linecap="round" />
<line x1="529.3" y1="1309" x2="529.3" y2="1330" stroke="#000" stroke-width="6" stroke-linecap="round" />
<line x1="709" y1="1250" x2="709" y2="1268" stroke="#000" stroke-width="5.5" stroke-linecap="round" />
<line x1="832.2" y1="1210" x2="832.2" y2="1230" stroke="#000" stroke-width="5.5" stroke-linecap="round" />
<line x1="1129" y1="1235" x2="1129" y2="1250" stroke="#000" stroke-width="9" stroke-linecap="round" />
<line x1="1150" y1="1230" x2="1150" y2="1252" stroke="#000" stroke-width="6" stroke-linecap="round" />
<text font-size="62" stroke="#000" stroke-width="1.4" stroke-linejoin="round"><tspan x="202.9" y="1129.8">2.4</tspan><tspan x="289.1" y="1129.8">x</tspan></text>
<text class="i" transform="translate(324.5,1129.8) skewX(-4.5)" font-size="62" stroke="#000" stroke-width="1.4" stroke-linejoin="round"><tspan x="0" y="0">I</tspan><tspan font-size="39" stroke-width="1.6" x="12.7" y="30.2">0</tspan></text>
<text class="i" transform="translate(620.2,1372.3) skewX(-4.5)" font-size="69.5" stroke="#000" stroke-width="1.8" stroke-linejoin="round"><tspan x="0" y="0" textLength="52.7" lengthAdjust="spacingAndGlyphs">N</tspan><tspan font-size="39" stroke-width="1.6" x="47.6" y="29.9" textLength="52" lengthAdjust="spacingAndGlyphs">inc</tspan></text>
</g>
<text x="271" y="1660" font-size="62.8" stroke="#000" stroke-width="0.8" stroke-linejoin="round" xml:space="preserve">Number of laser pulses  [x 10<tspan font-size="40" dy="-22">3</tspan><tspan dy="22">]</tspan></text>
<text transform="translate(80.6,996.5) rotate(-90)" font-size="63" stroke="#000" stroke-width="0.8" stroke-linejoin="round" xml:space="preserve"><tspan font-size="43" dy="-19">40</tspan><tspan dy="19">Ca</tspan><tspan font-size="43" dy="-19">+</tspan><tspan dy="19"> yield [a.u.]</tspan></text>
<line x1="1494.6" y1="45.5" x2="1494.6" y2="1487" stroke="#000" stroke-width="7" stroke-linecap="butt" />
<line x1="1483.1" y1="45.5" x2="2469.8" y2="45.5" stroke="#000" stroke-width="6" stroke-linecap="butt" />
<line x1="2466.6" y1="45.5" x2="2466.6" y2="1487" stroke="#000" stroke-width="6.5" stroke-linecap="butt" />
<line x1="1475.6" y1="1476" x2="2469.8" y2="1476" stroke="#000" stroke-width="6" stroke-linecap="butt" />
<line x1="1485.1" y1="1346" x2="1494.6" y2="1346" stroke="#000" stroke-width="5.2" stroke-linecap="round" />
<line x1="1477.6" y1="1216" x2="1494.6" y2="1216" stroke="#000" stroke-width="5.2" stroke-linecap="round" />
<line x1="1485.1" y1="1086" x2="1494.6" y2="1086" stroke="#000" stroke-width="5.2" stroke-linecap="round" />
<line x1="1477.6" y1="956" x2="1494.6" y2="956" stroke="#000" stroke-width="5.2" stroke-linecap="round" />
<line x1="1485.1" y1="826" x2="1494.6" y2="826" stroke="#000" stroke-width="5.2" stroke-linecap="round" />
<line x1="1477.6" y1="696" x2="1494.6" y2="696" stroke="#000" stroke-width="5.2" stroke-linecap="round" />
<line x1="1485.1" y1="566" x2="1494.6" y2="566" stroke="#000" stroke-width="5.2" stroke-linecap="round" />
<line x1="1477.6" y1="436" x2="1494.6" y2="436" stroke="#000" stroke-width="5.2" stroke-linecap="round" />
<line x1="1485.1" y1="306" x2="1494.6" y2="306" stroke="#000" stroke-width="5.2" stroke-linecap="round" />
<line x1="1477.6" y1="176" x2="1494.6" y2="176" stroke="#000" stroke-width="5.2" stroke-linecap="round" />
<line x1="1575.1" y1="1476" x2="1575.1" y2="1491.5" stroke="#000" stroke-width="5.4" stroke-linecap="round" />
<line x1="1737.3" y1="1476" x2="1737.3" y2="1491.5" stroke="#000" stroke-width="5.4" stroke-linecap="round" />
<line x1="1656.2" y1="1476" x2="1656.2" y2="1484.5" stroke="#000" stroke-width="5.2" stroke-linecap="round" />
<line x1="1899.6" y1="1476" x2="1899.6" y2="1491.5" stroke="#000" stroke-width="5.4" stroke-linecap="round" />
<line x1="1818.5" y1="1476" x2="1818.5" y2="1484.5" stroke="#000" stroke-width="5.2" stroke-linecap="round" />
<line x1="2061.8" y1="1476" x2="2061.8" y2="1491.5" stroke="#000" stroke-width="5.4" stroke-linecap="round" />
<line x1="1980.7" y1="1476" x2="1980.7" y2="1484.5" stroke="#000" stroke-width="5.2" stroke-linecap="round" />
<line x1="2224.1" y1="1476" x2="2224.1" y2="1491.5" stroke="#000" stroke-width="5.4" stroke-linecap="round" />
<line x1="2143" y1="1476" x2="2143" y2="1484.5" stroke="#000" stroke-width="5.2" stroke-linecap="round" />
<line x1="2386.3" y1="1476" x2="2386.3" y2="1491.5" stroke="#000" stroke-width="5.4" stroke-linecap="round" />
<line x1="2305.2" y1="1476" x2="2305.2" y2="1484.5" stroke="#000" stroke-width="5.2" stroke-linecap="round" />
<text x="1445" y="201.8" font-size="71" text-anchor="middle" stroke="#000" stroke-width="1.0" stroke-linejoin="round">5</text>
<text x="1445" y="478.1" font-size="71" text-anchor="middle" stroke="#000" stroke-width="1.0" stroke-linejoin="round">4</text>
<text x="1445" y="730.8" font-size="71" text-anchor="middle" stroke="#000" stroke-width="1.0" stroke-linejoin="round">3</text>
<text x="1445" y="982.8" font-size="71" text-anchor="middle" stroke="#000" stroke-width="1.0" stroke-linejoin="round">2</text>
<text x="1445" y="1235.4" font-size="71" text-anchor="middle" stroke="#000" stroke-width="1.0" stroke-linejoin="round">1</text>
<rect x="1429" y="1228.1" width="13.1" height="9" fill="#fff"/>
<rect x="1450.4" y="1228.1" width="12.6" height="9" fill="#fff"/>
<text x="1445" y="1486.8" font-size="71" text-anchor="middle" stroke="#000" stroke-width="1.0" stroke-linejoin="round">0</text>
<text x="1569" y="1578.6" font-size="65" text-anchor="middle" stroke="#000" stroke-width="0.9" stroke-linejoin="round">0</text>
<text x="1724.5" y="1578.6" font-size="65" text-anchor="middle" stroke="#000" stroke-width="0.9" stroke-linejoin="round">5</text>
<text x="1882.8" y="1578.6" font-size="65" text-anchor="middle" stroke="#000" stroke-width="0.9" stroke-linejoin="round">10</text>
<rect x="1849.9" y="1571.8" width="12.1" height="8.5" fill="#fff"/>
<rect x="1869.7" y="1571.8" width="11.6" height="8.5" fill="#fff"/>
<text x="2057" y="1578.6" font-size="65" text-anchor="middle" stroke="#000" stroke-width="0.9" stroke-linejoin="round">15</text>
<rect x="2024.1" y="1571.8" width="12.1" height="8.5" fill="#fff"/>
<rect x="2043.9" y="1571.8" width="11.6" height="8.5" fill="#fff"/>
<text x="2211.4" y="1578.6" font-size="65" text-anchor="middle" stroke="#000" stroke-width="0.9" stroke-linejoin="round">20</text>
<text x="2385.4" y="1578.6" font-size="65" text-anchor="middle" stroke="#000" stroke-width="0.9" stroke-linejoin="round">25</text>
<text x="1500" y="1654" font-size="63" stroke="#000" stroke-width="0.8" stroke-linejoin="round" xml:space="preserve">Number of laser pulses <tspan class="i">N</tspan><tspan font-size="42" dy="14">inc</tspan><tspan dy="-14"> [x 10</tspan><tspan font-size="40" dy="-22">4</tspan><tspan dy="22">]</tspan></text>
<text transform="translate(1348,1161) rotate(-90)" font-size="62" stroke="#000" stroke-width="0.8" stroke-linejoin="round" xml:space="preserve">Intensity [10<tspan font-size="42" dy="-20">12</tspan><tspan dy="20"> W/cm</tspan><tspan font-size="42" dy="-20" dx="2">2</tspan><tspan dy="20" dx="3">]</tspan></text>
<path d="M1560.9,255.5 L1578.5,237.5 L1596.1,255.5 L1578.5,273.5Z" fill="none" stroke="#0a0a0a" stroke-width="3.3" stroke-linejoin="miter"/>
<line x1="1563.9" y1="255.5" x2="1593.1" y2="255.5" stroke="#1a1a1a" stroke-width="2.5" stroke-linecap="butt" />
<line x1="1578.5" y1="240.5" x2="1578.5" y2="270.5" stroke="#222" stroke-width="2.7" stroke-linecap="butt" />
<path d="M1563.8,399.1 L1581.4,381.1 L1599,399.1 L1581.4,417.1Z" fill="none" stroke="#0a0a0a" stroke-width="3.3" stroke-linejoin="miter"/>
<line x1="1566.8" y1="399.1" x2="1596" y2="399.1" stroke="#1a1a1a" stroke-width="2.5" stroke-linecap="butt" />
<line x1="1581.4" y1="384.1" x2="1581.4" y2="414.1" stroke="#222" stroke-width="2.7" stroke-linecap="butt" />
<path d="M1573.4,458.7 L1591,440.7 L1608.6,458.7 L1591,476.7Z" fill="none" stroke="#0a0a0a" stroke-width="3.3" stroke-linejoin="miter"/>
<line x1="1576.4" y1="458.7" x2="1605.6" y2="458.7" stroke="#1a1a1a" stroke-width="2.5" stroke-linecap="butt" />
<line x1="1591" y1="443.7" x2="1591" y2="473.7" stroke="#222" stroke-width="2.7" stroke-linecap="butt" />
<path d="M1573.4,518.9 L1591,500.9 L1608.6,518.9 L1591,536.9Z" fill="none" stroke="#0a0a0a" stroke-width="3.3" stroke-linejoin="miter"/>
<line x1="1576.4" y1="518.9" x2="1605.6" y2="518.9" stroke="#1a1a1a" stroke-width="2.5" stroke-linecap="butt" />
<line x1="1591" y1="503.9" x2="1591" y2="533.9" stroke="#222" stroke-width="2.7" stroke-linecap="butt" />
<path d="M1661.1,542.5 L1678.7,524.5 L1696.3,542.5 L1678.7,560.5Z" fill="none" stroke="#0a0a0a" stroke-width="3.3" stroke-linejoin="miter"/>
<line x1="1664.1" y1="542.5" x2="1693.3" y2="542.5" stroke="#1a1a1a" stroke-width="2.5" stroke-linecap="butt" />
<line x1="1678.7" y1="527.5" x2="1678.7" y2="557.5" stroke="#222" stroke-width="2.7" stroke-linecap="butt" />
<line x1="1676.2" y1="530.5" x2="1676.2" y2="554.5" stroke="#555" stroke-width="1.6" stroke-linecap="butt" />
<line x1="1681.2" y1="530.5" x2="1681.2" y2="554.5" stroke="#555" stroke-width="1.6" stroke-linecap="butt" />
<path d="M1614.5,638.2 L1632.1,620.2 L1649.7,638.2 L1632.1,656.2Z" fill="none" stroke="#0a0a0a" stroke-width="3.3" stroke-linejoin="miter"/>
<line x1="1617.5" y1="638.2" x2="1646.7" y2="638.2" stroke="#1a1a1a" stroke-width="2.5" stroke-linecap="butt" />
<line x1="1632.1" y1="623.2" x2="1632.1" y2="653.2" stroke="#222" stroke-width="2.7" stroke-linecap="butt" />
<path d="M1687.5,626.3 L1705.1,608.3 L1722.7,626.3 L1705.1,644.3Z" fill="none" stroke="#0a0a0a" stroke-width="3.3" stroke-linejoin="miter"/>
<line x1="1690.5" y1="626.3" x2="1719.7" y2="626.3" stroke="#1a1a1a" stroke-width="2.5" stroke-linecap="butt" />
<line x1="1705.1" y1="611.3" x2="1705.1" y2="641.3" stroke="#222" stroke-width="2.7" stroke-linecap="butt" />
<line x1="1702.6" y1="614.3" x2="1702.6" y2="638.3" stroke="#555" stroke-width="1.6" stroke-linecap="butt" />
<line x1="1707.6" y1="614.3" x2="1707.6" y2="638.3" stroke="#555" stroke-width="1.6" stroke-linecap="butt" />
<path d="M1687.5,722.4 L1705.1,704.4 L1722.7,722.4 L1705.1,740.4Z" fill="none" stroke="#0a0a0a" stroke-width="3.3" stroke-linejoin="miter"/>
<line x1="1690.5" y1="722.4" x2="1719.7" y2="722.4" stroke="#1a1a1a" stroke-width="2.5" stroke-linecap="butt" />
<line x1="1705.1" y1="707.4" x2="1705.1" y2="737.4" stroke="#222" stroke-width="2.7" stroke-linecap="butt" />
<line x1="1702.6" y1="710.4" x2="1702.6" y2="734.4" stroke="#555" stroke-width="1.6" stroke-linecap="butt" />
<line x1="1707.6" y1="710.4" x2="1707.6" y2="734.4" stroke="#555" stroke-width="1.6" stroke-linecap="butt" />
<path d="M1687.5,781.7 L1705.1,763.7 L1722.7,781.7 L1705.1,799.7Z" fill="none" stroke="#0a0a0a" stroke-width="3.3" stroke-linejoin="miter"/>
<line x1="1690.5" y1="781.7" x2="1719.7" y2="781.7" stroke="#1a1a1a" stroke-width="2.5" stroke-linecap="butt" />
<line x1="1705.1" y1="766.7" x2="1705.1" y2="796.7" stroke="#222" stroke-width="2.7" stroke-linecap="butt" />
<line x1="1702.6" y1="769.7" x2="1702.6" y2="793.7" stroke="#555" stroke-width="1.6" stroke-linecap="butt" />
<line x1="1707.6" y1="769.7" x2="1707.6" y2="793.7" stroke="#555" stroke-width="1.6" stroke-linecap="butt" />
<path d="M1622.7,852.9 L1640.3,834.9 L1657.9,852.9 L1640.3,870.9Z" fill="none" stroke="#0a0a0a" stroke-width="3.3" stroke-linejoin="miter"/>
<line x1="1625.7" y1="852.9" x2="1654.9" y2="852.9" stroke="#1a1a1a" stroke-width="2.5" stroke-linecap="butt" />
<line x1="1640.3" y1="837.9" x2="1640.3" y2="867.9" stroke="#222" stroke-width="2.7" stroke-linecap="butt" />
<path d="M1719.9,852.9 L1737.5,834.9 L1755.1,852.9 L1737.5,870.9Z" fill="none" stroke="#0a0a0a" stroke-width="3.3" stroke-linejoin="miter"/>
<line x1="1722.9" y1="852.9" x2="1752.1" y2="852.9" stroke="#1a1a1a" stroke-width="2.5" stroke-linecap="butt" />
<line x1="1737.5" y1="837.9" x2="1737.5" y2="867.9" stroke="#222" stroke-width="2.7" stroke-linecap="butt" />
<line x1="1734.5" y1="840.9" x2="1734.5" y2="864.9" stroke="#555" stroke-width="1.6" stroke-linecap="butt" />
<line x1="1740.5" y1="840.9" x2="1740.5" y2="864.9" stroke="#555" stroke-width="1.6" stroke-linecap="butt" />
<path d="M1655.1,901.5 L1672.7,883.5 L1690.3,901.5 L1672.7,919.5Z" fill="none" stroke="#0a0a0a" stroke-width="3.3" stroke-linejoin="miter"/>
<line x1="1658.1" y1="901.5" x2="1687.3" y2="901.5" stroke="#1a1a1a" stroke-width="2.5" stroke-linecap="butt" />
<line x1="1672.7" y1="886.5" x2="1672.7" y2="916.5" stroke="#222" stroke-width="2.7" stroke-linecap="butt" />
<line x1="1670.2" y1="889.5" x2="1670.2" y2="913.5" stroke="#555" stroke-width="1.6" stroke-linecap="butt" />
<line x1="1675.2" y1="889.5" x2="1675.2" y2="913.5" stroke="#555" stroke-width="1.6" stroke-linecap="butt" />
<path d="M1752.4,936.8 L1770,918.8 L1787.6,936.8 L1770,954.8Z" fill="none" stroke="#0a0a0a" stroke-width="3.3" stroke-linejoin="miter"/>
<line x1="1755.4" y1="936.8" x2="1784.6" y2="936.8" stroke="#1a1a1a" stroke-width="2.5" stroke-linecap="butt" />
<line x1="1765" y1="922.9" x2="1765" y2="950.7" stroke="#222" stroke-width="2.4" stroke-linecap="butt" />
<line x1="1775" y1="922.9" x2="1775" y2="950.7" stroke="#222" stroke-width="2.4" stroke-linecap="butt" />
<path d="M1804.1,996.6 L1821.7,978.6 L1839.3,996.6 L1821.7,1014.6Z" fill="none" stroke="#0a0a0a" stroke-width="3.3" stroke-linejoin="miter"/>
<line x1="1807.1" y1="996.6" x2="1836.3" y2="996.6" stroke="#1a1a1a" stroke-width="2.5" stroke-linecap="butt" />
<line x1="1812.7" y1="986.8" x2="1812.7" y2="1006.4" stroke="#222" stroke-width="2.4" stroke-linecap="butt" />
<line x1="1830.7" y1="986.8" x2="1830.7" y2="1006.4" stroke="#222" stroke-width="2.4" stroke-linecap="butt" />
<path d="M1801,1081 L1818.6,1063 L1836.2,1081 L1818.6,1099Z" fill="none" stroke="#0a0a0a" stroke-width="3.3" stroke-linejoin="miter"/>
<line x1="1804" y1="1081" x2="1833.2" y2="1081" stroke="#1a1a1a" stroke-width="2.5" stroke-linecap="butt" />
<line x1="1809.9" y1="1070.9" x2="1809.9" y2="1091.1" stroke="#222" stroke-width="2.4" stroke-linecap="butt" />
<line x1="1827.3" y1="1070.9" x2="1827.3" y2="1091.1" stroke="#222" stroke-width="2.4" stroke-linecap="butt" />
<path d="M1882.4,1092.6 L1900,1074.6 L1917.6,1092.6 L1900,1110.6Z" fill="none" stroke="#0a0a0a" stroke-width="3.3" stroke-linejoin="miter"/>
<line x1="1885.4" y1="1092.6" x2="1914.6" y2="1092.6" stroke="#1a1a1a" stroke-width="2.5" stroke-linecap="butt" />
<path d="M2043.3,1248.2 L2060.9,1230.2 L2078.5,1248.2 L2060.9,1266.2Z" fill="none" stroke="#2a2a2a" stroke-width="2.8" stroke-linejoin="miter"/>
<line x1="2045.3" y1="1248.2" x2="2076.5" y2="1248.2" stroke="#1a1a1a" stroke-width="2.7" stroke-linecap="butt" />
<line x1="2045.3" y1="1234.4" x2="2045.3" y2="1262" stroke="#222" stroke-width="2.6" stroke-linecap="butt" />
<line x1="2076.5" y1="1234.4" x2="2076.5" y2="1262" stroke="#222" stroke-width="2.6" stroke-linecap="butt" />
<path d="M2206.2,1355.2 L2223.8,1337.2 L2241.4,1355.2 L2223.8,1373.2Z" fill="none" stroke="#2a2a2a" stroke-width="2.8" stroke-linejoin="miter"/>
<line x1="2203.6" y1="1355.2" x2="2244" y2="1355.2" stroke="#1a1a1a" stroke-width="2.7" stroke-linecap="butt" />
<line x1="2203.6" y1="1340.5" x2="2203.6" y2="1369.9" stroke="#222" stroke-width="2.6" stroke-linecap="butt" />
<line x1="2244" y1="1340.5" x2="2244" y2="1369.9" stroke="#222" stroke-width="2.6" stroke-linecap="butt" />
<path d="M1588.5,256.2 C1589,262.5 1590.2,281.5 1591.2,294.2 C1592.2,306.9 1593.3,319.6 1594.4,332.4 C1595.5,345.1 1596.7,357.9 1598,370.7 C1599.3,383.5 1600.7,396.3 1602.2,409.1 C1603.7,421.9 1605.3,434.7 1607,447.5 C1608.7,460.3 1610.5,473.1 1612.5,485.9 C1614.5,498.7 1616.5,511.5 1618.7,524.2 C1620.9,536.9 1623.1,549.6 1625.6,562.3 C1628.1,575 1630.7,587.7 1633.5,600.3 C1636.3,612.9 1639.1,625.5 1642.2,638 C1645.3,650.5 1648.5,663 1651.9,675.4 C1655.3,687.8 1658.9,700.2 1662.6,712.5 C1666.3,724.8 1670.2,737 1674.3,749.1 C1678.4,761.2 1682.7,773.3 1687.2,785.3 C1691.7,797.3 1696.4,809.1 1701.3,820.9 C1706.2,832.7 1711.3,844.4 1716.6,856 C1721.9,867.6 1727.5,879 1733.3,890.4 C1739.1,901.8 1745.1,913 1751.3,924.1 C1757.5,935.2 1764,946.2 1770.7,957.1 C1777.4,968 1784.3,978.7 1791.5,989.3 C1798.7,999.9 1806,1010.4 1813.6,1020.7 C1821.2,1031 1829,1041.2 1837,1051.2 C1845,1061.2 1853.2,1071.1 1861.6,1080.8 C1870,1090.5 1878.6,1100.1 1887.4,1109.5 C1896.2,1118.9 1905.2,1128.2 1914.3,1137.3 C1923.4,1146.4 1932.7,1155.3 1942.2,1164 C1951.7,1172.7 1961.3,1181.3 1971.1,1189.7 C1980.9,1198.1 1990.9,1206.4 2001,1214.4 C2011.1,1222.4 2021.4,1230.2 2031.8,1237.9 C2042.2,1245.6 2052.7,1253 2063.4,1260.3 C2074.1,1267.6 2084.9,1274.7 2095.8,1281.6 C2106.7,1288.5 2117.8,1295.1 2129,1301.6 C2140.2,1308.1 2151.4,1314.4 2162.8,1320.4 C2174.2,1326.5 2185.6,1332.3 2197.2,1337.9 C2208.8,1343.5 2226.5,1351.4 2232.3,1354.1" fill="none" stroke="#000" stroke-width="6.8" stroke-linecap="round"/>
<line x1="1641.6" y1="290" x2="1643.7" y2="314.8" stroke="#000" stroke-width="7.6" stroke-linecap="round" />
<line x1="1646.7" y1="357.1" x2="1648.7" y2="380.8" stroke="#000" stroke-width="7.6" stroke-linecap="round" />
<line x1="1650.8" y1="419.8" x2="1652.5" y2="446.5" stroke="#000" stroke-width="7.6" stroke-linecap="round" />
<line x1="1656.2" y1="486.8" x2="1659.2" y2="512.8" stroke="#000" stroke-width="7.6" stroke-linecap="round" />
<line x1="1661.6" y1="553.1" x2="1664.5" y2="577.5" stroke="#000" stroke-width="7.6" stroke-linecap="round" />
<line x1="1668.9" y1="617.1" x2="1672.2" y2="643" stroke="#000" stroke-width="7.6" stroke-linecap="round" />
<line x1="1677.2" y1="683" x2="1680.7" y2="706.7" stroke="#000" stroke-width="7.6" stroke-linecap="round" />
<line x1="1686.3" y1="747.7" x2="1690.4" y2="772.6" stroke="#000" stroke-width="7.6" stroke-linecap="round" />
<line x1="1695.9" y1="813.7" x2="1702.1" y2="837.3" stroke="#000" stroke-width="7.6" stroke-linecap="round" />
<line x1="1711.5" y1="881.4" x2="1718.1" y2="904.2" stroke="#000" stroke-width="7.6" stroke-linecap="round" />
<line x1="1730" y1="947.2" x2="1737.4" y2="969.1" stroke="#000" stroke-width="7.6" stroke-linecap="round" />
<line x1="1752.1" y1="1011.7" x2="1763.3" y2="1035.1" stroke="#000" stroke-width="7.6" stroke-linecap="round" />
<line x1="1782.9" y1="1076.3" x2="1797.1" y2="1100.5" stroke="#000" stroke-width="7.6" stroke-linecap="round" />
<line x1="1825.4" y1="1141.3" x2="1846.6" y2="1166.7" stroke="#000" stroke-width="7.6" stroke-linecap="round" />
<line x1="1887" y1="1204.7" x2="1911.5" y2="1223.7" stroke="#000" stroke-width="7.6" stroke-linecap="round" />
<line x1="1952.8" y1="1248.5" x2="1976.7" y2="1262.9" stroke="#000" stroke-width="7.6" stroke-linecap="round" />
<line x1="2018.3" y1="1282" x2="2042.5" y2="1292.5" stroke="#000" stroke-width="7.6" stroke-linecap="round" />
<line x1="2083.6" y1="1305.7" x2="2107.9" y2="1314.7" stroke="#000" stroke-width="7.6" stroke-linecap="round" />
<line x1="2148.9" y1="1324.2" x2="2172.8" y2="1331" stroke="#000" stroke-width="7.6" stroke-linecap="round" />
<line x1="2213.8" y1="1338.5" x2="2240.2" y2="1342.4" stroke="#000" stroke-width="7.6" stroke-linecap="round" />
<line x1="2279.3" y1="1350.5" x2="2305.8" y2="1355.7" stroke="#000" stroke-width="7.6" stroke-linecap="round" />
<path d="M2095,1147.2 L2095,1064 L2352,1064 M2095,1182.4 L2095,1205.6 L2352,1205.6" fill="none" stroke="#666" stroke-width="3.6"/>
<path d="M2095,1147.2 L2008.6,1214.6 L2095,1182.4" fill="none" stroke="#555" stroke-width="2.4" stroke-linejoin="round"/>
<line x1="2130" y1="1206.6" x2="2352" y2="1206.6" stroke="#555" stroke-width="4.2" stroke-linecap="butt" />
<line x1="2354.4" y1="1062.5" x2="2354.4" y2="1208.4" stroke="#000" stroke-width="8" stroke-linecap="butt" />
<text font-size="87" stroke="#000" stroke-width="0.3" stroke-linejoin="round"><tspan font-family="'DejaVu Sans','Liberation Sans',sans-serif" font-size="92.3" x="2101.2" y="1172.3" textLength="78.8" lengthAdjust="spacingAndGlyphs" stroke="#fff" stroke-width="0.5" stroke-linejoin="round">&#8733;</tspan><tspan> </tspan><tspan x="2193.1" y="1167.3">e</tspan><tspan font-size="59" x="2239.6" y="1142.2" stroke-width="0.7">-</tspan><tspan font-family="'DejaVu Serif','Liberation Serif',serif" font-size="53.4" x="2259.6" y="1142" textLength="31.7" lengthAdjust="spacingAndGlyphs" stroke-width="0.2">&#945;</tspan><tspan class="i" font-size="58.5" x="2296.2" y="1140.9" textLength="41" lengthAdjust="spacingAndGlyphs" stroke-width="1.3">N</tspan></text>
<path d="M1529,1287 L1767.5,1287 L1866,1193.4 L1871.5,1287 L1939.5,1287 L1939.5,1455 L1529,1455 Z" fill="none" stroke="#000" stroke-width="5.4" stroke-linejoin="miter"/>
<text font-size="83.3" stroke="#000" stroke-width="2.4" stroke-linejoin="round"><tspan font-family="'DejaVu Sans','Liberation Sans',sans-serif" font-size="90.9" x="1550.7" y="1407" textLength="75.1" lengthAdjust="spacingAndGlyphs" stroke="#fff" stroke-width="0.5" stroke-linejoin="round">&#8733;</tspan><tspan> </tspan><tspan x="1641.9" y="1399.2">1</tspan><tspan x="1685.6" y="1399.2">/</tspan><tspan class="i" x="1709.9" y="1399.2" textLength="57.3" lengthAdjust="spacingAndGlyphs">N</tspan><tspan font-size="53.5" x="1775.2" y="1376" stroke-width="0.9">(1-S)</tspan></text>
<rect x="1645.8" y="1390.3" width="15.3" height="11.3" fill="#fff"/>
<rect x="1671.9" y="1390.3" width="11.5" height="11.3" fill="#fff"/>
<rect x="1795.4" y="1370" width="10.1" height="7.6" fill="#fff"/>
<rect x="1812.2" y="1370" width="9.6" height="7.6" fill="#fff"/>
</g>
</svg></body></html>
